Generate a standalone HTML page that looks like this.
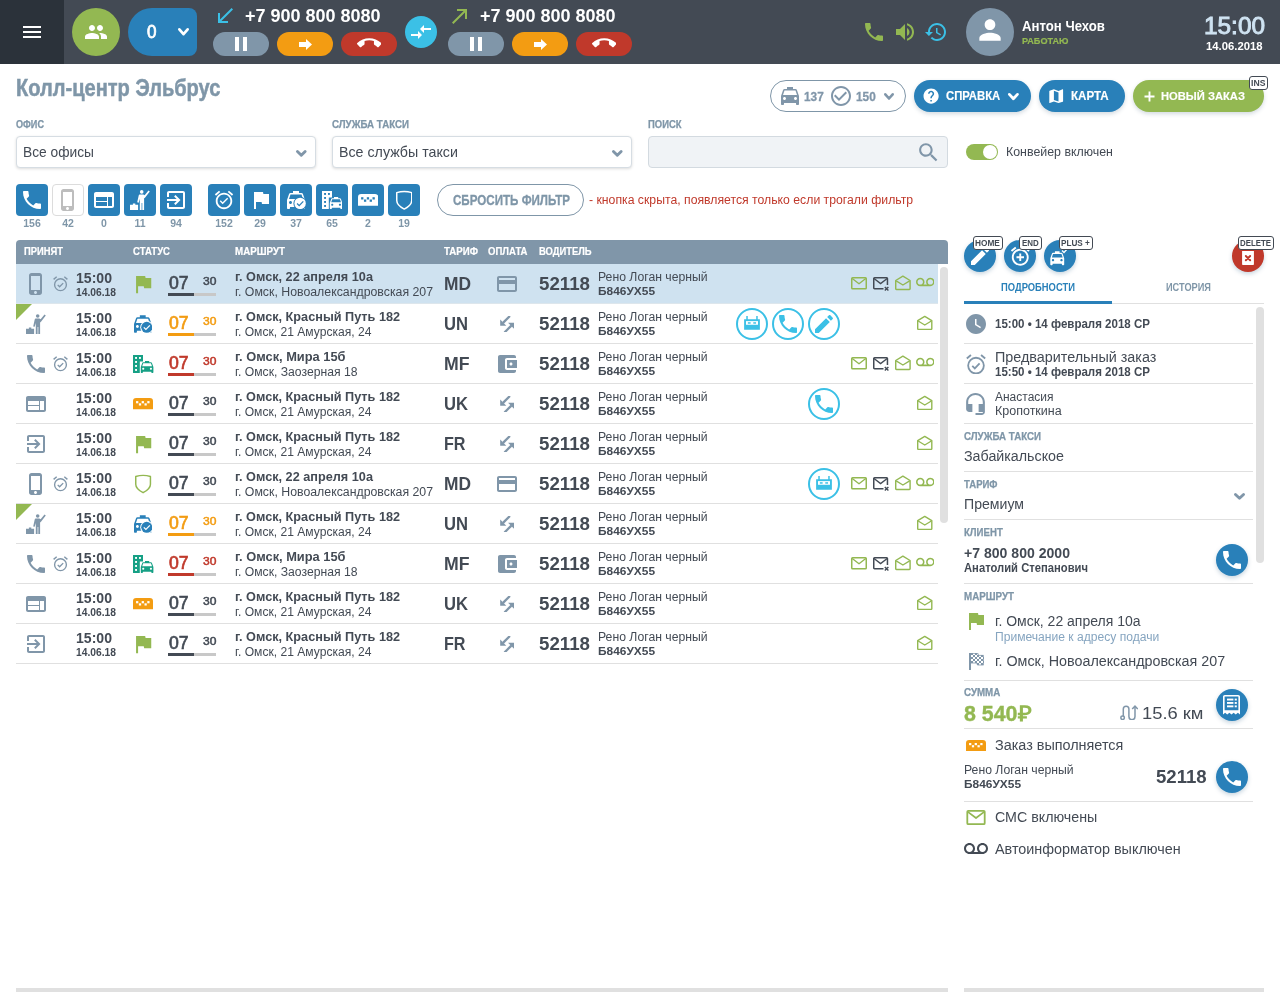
<!DOCTYPE html>
<html lang="ru">
<head>
<meta charset="utf-8">
<title>Колл-центр Эльбрус</title>
<style>
html,body{margin:0;padding:0}
body{width:1280px;height:1000px;position:relative;overflow:hidden;background:#fff;font-family:"Liberation Sans",sans-serif;color:#434a54}
.a{position:absolute;display:block;box-sizing:border-box}
.t{position:absolute;white-space:pre;line-height:1;transform-origin:0 50%}
.pill{border-radius:16px}
.sh{box-shadow:0 2px 4px rgba(60,90,120,.22)}

</style>
</head>
<body>
<header class="a" style="left:0;top:0;width:1280px;height:64px;background:#434a54">
<div class="a" style="left:0px;top:0px;width:64px;height:64px;background:#2b323a"></div>
<svg class="a" style="left:20px;top:20px" width="24" height="24" viewBox="0 0 24 24" fill="#fff" color="#fff"><path d="M3 18h18v-2H3v2zm0-5h18v-2H3v2zm0-7v2h18V6H3z"/></svg>
<div class="a" style="left:72px;top:8px;width:48px;height:48px;border-radius:50%;background:#93b852"></div>
<svg class="a" style="left:84px;top:20px" width="24" height="24" viewBox="0 0 24 24" fill="#fff" color="#fff"><path d="M16 11c1.66 0 2.99-1.34 2.99-3S17.66 5 16 5c-1.66 0-3 1.34-3 3s1.34 3 3 3zm-8 0c1.66 0 2.99-1.34 2.99-3S9.66 5 8 5C6.34 5 5 6.34 5 8s1.34 3 3 3zm0 2c-2.33 0-7 1.17-7 3.5V19h14v-2.500c0-2.330-4.670-3.500-7-3.500zm8 0c-.29 0-.62.02-.97.05 1.16.84 1.970 1.970 1.970 3.450V19h6v-2.500c0-2.330-4.670-3.500-7-3.500z"/></svg>
<div class="a" style="left:128px;top:8px;width:69px;height:48px;border-radius:24px 8px 8px 24px;background:#2980b9"></div>
<span class="t" style="left:147.35px;top:23px;font-size:18.5px;color:#fff;transform:scaleX(0.923);-webkit-text-stroke:.8px #fff;">0</span>
<svg class="a" style="left:176px;top:26.4px" width="15" height="11.5" viewBox="0 0 15 11.5" fill="none" stroke="#fff" stroke-width="2.7" stroke-linecap="round" stroke-linejoin="round"><path d="M3.35 3.35L7.5 8.15L11.65 3.35"/></svg>
<svg class="a" style="left:213.2px;top:4px" width="24" height="24" viewBox="0 0 24 24" fill="#3bc0e6" color="#3bc0e6"><path d="M20 5.41L18.590 4 7 15.590V9H5v10h10v-2H8.410z"/></svg>
<span class="t" style="left:245px;top:7px;font-size:18px;color:#fff;font-weight:700;">+7 900 800 8080</span>
<div class="a" style="left:213px;top:32px;width:56px;height:24px;border-radius:12px;background:#8096a9"></div>
<svg class="a" style="left:229px;top:32px" width="24" height="24" viewBox="0 0 24 24" fill="#fff" color="#fff"><path d="M6 19h4V5H6v14zm8-14v14h4V5h-4z"/></svg>
<div class="a" style="left:277px;top:32px;width:56px;height:24px;border-radius:12px;background:#f39c12"></div>
<svg class="a" style="left:298.7px;top:38.8px" width="13" height="11" viewBox="0 0 13 11" fill="#fff" color="#fff"><path d="M0 3h7V0l6 5.500L7 11V8H0z"/></svg>
<div class="a" style="left:341px;top:32px;width:56px;height:24px;border-radius:12px;background:#c0392b"></div>
<svg class="a" style="left:356.7px;top:31.3px" width="24.5" height="24.5" viewBox="0 0 24 24" fill="#fff" color="#fff"><path d="M12 9c-1.600 0-3.150.25-4.600.72v3.100c0 .39-.23.74-.56.9-.98.49-1.870 1.120-2.660 1.850-.18.18-.43.28-.7.28-.28 0-.53-.11-.71-.29L.29 13.080c-.18-.17-.29-.42-.29-.7 0-.28.11-.53.29-.71C3.340 8.780 7.460 7 12 7s8.660 1.780 11.710 4.670c.18.18.29.43.29.71 0 .28-.11.53-.29.71l-2.480 2.480c-.18.18-.43.29-.71.29-.27 0-.52-.11-.7-.28-.79-.74-1.690-1.360-2.670-1.850-.33-.16-.56-.5-.56-.9v-3.100C15.150 9.250 13.600 9 12 9z"/></svg>
<div class="a" style="left:405px;top:16px;width:32px;height:32px;border-radius:50%;background:#3bc0e6"></div>
<svg class="a" style="left:409px;top:19.5px" width="24" height="24" viewBox="0 0 24 24" fill="#fff" color="#fff"><path d="M9.01 14H2v2h7.010v3L13 15l-3.990-4v3zm5.980-1v-3H22V8h-7.010V5L11 9l3.990 4z"/></svg>
<svg class="a" style="left:447.7px;top:4px" width="24" height="24" viewBox="0 0 24 24" fill="#93b852" color="#93b852"><path d="M9 5v2h6.590L4 18.590 5.410 20 17 8.410V15h2V5z"/></svg>
<span class="t" style="left:480px;top:7px;font-size:18px;color:#fff;font-weight:700;">+7 900 800 8080</span>
<div class="a" style="left:448px;top:32px;width:56px;height:24px;border-radius:12px;background:#8096a9"></div>
<svg class="a" style="left:464px;top:32px" width="24" height="24" viewBox="0 0 24 24" fill="#fff" color="#fff"><path d="M6 19h4V5H6v14zm8-14v14h4V5h-4z"/></svg>
<div class="a" style="left:512px;top:32px;width:56px;height:24px;border-radius:12px;background:#f39c12"></div>
<svg class="a" style="left:533.7px;top:38.8px" width="13" height="11" viewBox="0 0 13 11" fill="#fff" color="#fff"><path d="M0 3h7V0l6 5.500L7 11V8H0z"/></svg>
<div class="a" style="left:576px;top:32px;width:56px;height:24px;border-radius:12px;background:#c0392b"></div>
<svg class="a" style="left:591.7px;top:31.3px" width="24.5" height="24.5" viewBox="0 0 24 24" fill="#fff" color="#fff"><path d="M12 9c-1.600 0-3.150.25-4.600.72v3.100c0 .39-.23.74-.56.9-.98.49-1.870 1.120-2.660 1.850-.18.18-.43.28-.7.28-.28 0-.53-.11-.71-.29L.29 13.080c-.18-.17-.29-.42-.29-.7 0-.28.11-.53.29-.71C3.340 8.780 7.460 7 12 7s8.660 1.780 11.710 4.670c.18.18.29.43.29.71 0 .28-.11.53-.29.71l-2.480 2.480c-.18.18-.43.29-.71.29-.27 0-.52-.11-.7-.28-.79-.74-1.690-1.360-2.670-1.850-.33-.16-.56-.5-.56-.9v-3.100C15.150 9.250 13.600 9 12 9z"/></svg>
<svg class="a" style="left:862px;top:20px" width="24" height="24" viewBox="0 0 24 24" fill="#93b852" color="#93b852"><path d="M6.62 10.79c1.44 2.83 3.76 5.14 6.59 6.59l2.2-2.2c.27-.27.67-.36 1.02-.24 1.12.37 2.33.57 3.57.57.55 0 1 .45 1 1V20c0 .55-.45 1-1 1-9.39 0-17-7.61-17-17 0-.55.45-1 1-1h3.5c.55 0 1 .45 1 1 0 1.25.2 2.45.57 3.57.11.35.03.74-.25 1.02l-2.2 2.2z"/></svg>
<svg class="a" style="left:893px;top:20px" width="24" height="24" viewBox="0 0 24 24" fill="#93b852" color="#93b852"><path d="M3 9v6h4l5 5V4L7 9H3zm13.500 3c0-1.770-1.020-3.290-2.500-4.030v8.050c1.480-.73 2.500-2.250 2.500-4.020zM14 3.230v2.060c2.890.86 5 3.540 5 6.710s-2.110 5.850-5 6.710v2.060c4.010-.91 7-4.490 7-8.770s-2.990-7.860-7-8.770z"/></svg>
<svg class="a" style="left:924px;top:20px" width="24" height="24" viewBox="0 0 24 24" fill="#3bc0e6" color="#3bc0e6"><path d="M13 3c-4.970 0-9 4.030-9 9H1l3.890 3.890.07.14L9 12H6c0-3.870 3.130-7 7-7s7 3.130 7 7-3.130 7-7 7c-1.930 0-3.680-.79-4.940-2.060l-1.420 1.420C8.270 19.990 10.510 21 13 21c4.970 0 9-4.030 9-9s-4.030-9-9-9zm-1 5v5l4.280 2.540.72-1.210-3.500-2.080V8H12z"/></svg>
<div class="a" style="left:966px;top:8px;width:48px;height:48px;border-radius:50%;background:#8096a9;overflow:hidden"></div>
<svg class="a" style="left:974px;top:14px" width="32" height="32" viewBox="0 0 24 24" fill="#fff" color="#fff"><path d="M12 12c2.210 0 4-1.790 4-4s-1.790-4-4-4-4 1.790-4 4 1.790 4 4 4zm0 2c-2.670 0-8 1.340-8 4v2h16v-2c0-2.660-5.330-4-8-4z"/></svg>
<span class="t" style="left:1022px;top:19px;font-size:14px;color:#fff;font-weight:700;transform:scaleX(0.941);">Антон Чехов</span>
<span class="t" style="left:1022px;top:37px;font-size:9.3px;color:#93b852;font-weight:700;transform:scaleX(0.981);-webkit-text-stroke:.2px;">РАБОТАЮ</span>
<span class="t" style="left:1204px;top:15px;font-size:23.5px;color:#cfe3f2;transform:scaleX(1.037);-webkit-text-stroke:.9px #cfe3f2;">15:00</span>
<span class="t" style="left:1206px;top:41px;font-size:11px;color:#fff;font-weight:700;transform:scaleX(1.026);">14.06.2018</span>
</header>
<span class="t" style="left:16.2px;top:77px;font-size:23px;color:#7f96a8;font-weight:700;transform:scaleX(0.872);-webkit-text-stroke:.5px #7f96a8;">Колл-центр Эльбрус</span>
<div class="a" style="left:770px;top:80px;width:136px;height:32px;border:1px solid #7f96a8;border-radius:16px"></div>
<svg class="a" style="left:778px;top:84px" width="24" height="24" viewBox="0 0 24 24" fill="#8096a9" color="#8096a9"><path d="M18.920 6.010C18.720 5.420 18.160 5 17.500 5H15V3H9v2H6.500c-.66 0-1.210.42-1.420 1.010L3 12v8c0 .55.45 1 1 1h1c.55 0 1-.45 1-1v-1h12v1c0 .55.45 1 1 1h1c.55 0 1-.45 1-1v-8l-2.080-5.990zM6.500 16c-.83 0-1.500-.67-1.500-1.500S5.670 13 6.500 13s1.500.67 1.500 1.500S7.330 16 6.500 16zm11 0c-.83 0-1.500-.67-1.500-1.500s.67-1.500 1.500-1.500 1.500.67 1.500 1.500-.67 1.500-1.500 1.500zM5 11l1.500-4.500h11L19 11H5z"/></svg>
<span class="t" style="left:803.8px;top:90px;font-size:13px;color:#8096a9;font-weight:700;transform:scaleX(0.908);-webkit-text-stroke:.3px;">137</span>
<svg class="a" style="left:829px;top:84px" width="24" height="24" viewBox="0 0 24 24" fill="#8096a9" color="#8096a9"><path d="M16.590 7.580L10 14.170l-3.590-3.580L5 12l5 5 8-8zM12 2C6.480 2 2 6.480 2 12s4.480 10 10 10 10-4.480 10-10S17.520 2 12 2zm0 18c-4.420 0-8-3.580-8-8s3.580-8 8-8 8 3.580 8 8-3.580 8-8 8z"/></svg>
<span class="t" style="left:855.9px;top:90px;font-size:13px;color:#8096a9;font-weight:700;transform:scaleX(0.908);-webkit-text-stroke:.3px;">150</span>
<svg class="a" style="left:881.5px;top:90.8px" width="14" height="10.8" viewBox="0 0 14 10.8" fill="none" stroke="#8096a9" stroke-width="2.6" stroke-linecap="round" stroke-linejoin="round"><path d="M3.3 3.3L7.0 7.500000000000001L10.7 3.3"/></svg>
<div class="a sh" style="left:914px;top:80px;width:117px;height:32px;border-radius:16px;background:#2980b9"></div>
<svg class="a" style="left:921.8px;top:86.8px" width="18.2" height="18.2" viewBox="0 0 24 24" fill="#fff" color="#fff"><path d="M12 2C6.480 2 2 6.480 2 12s4.480 10 10 10 10-4.480 10-10S17.520 2 12 2zm1 17h-2v-2h2v2zm2.070-7.750l-.9.92C13.450 12.900 13 13.500 13 15h-2v-.5c0-1.100.45-2.100 1.170-2.830l1.240-1.260c.37-.36.59-.86.59-1.410 0-1.100-.9-2-2-2s-2 .9-2 2H8c0-2.210 1.790-4 4-4s4 1.790 4 4c0 .88-.36 1.680-.93 2.250z"/></svg>
<span class="t" style="left:946px;top:90px;font-size:12px;color:#fff;font-weight:700;transform:scaleX(0.943);-webkit-text-stroke:.15px;">СПРАВКА</span>
<svg class="a" style="left:1006px;top:90.5px" width="14.8" height="11.2" viewBox="0 0 14.8 11.2" fill="none" stroke="#fff" stroke-width="2.8" stroke-linecap="round" stroke-linejoin="round"><path d="M3.4 3.4L7.4 7.799999999999999L11.4 3.4"/></svg>
<div class="a sh" style="left:1039px;top:80px;width:86px;height:32px;border-radius:16px;background:#2980b9"></div>
<svg class="a" style="left:1046.7px;top:86.5px" width="18.4" height="18.4" viewBox="0 0 24 24" fill="#fff" color="#fff"><path d="M20.500 3l-.16.03L15 5.100 9 3 3.360 4.900c-.21.07-.36.25-.36.48V20.500c0 .28.22.5.5.5l.16-.03L9 18.900l6 2.100 5.640-1.900c.21-.07.36-.25.36-.48V3.500c0-.28-.22-.5-.5-.5zM15 19l-6-2.110V5l6 2.110V19z"/></svg>
<span class="t" style="left:1071.4px;top:90px;font-size:12px;color:#fff;font-weight:700;transform:scaleX(0.965);-webkit-text-stroke:.15px;">КАРТА</span>
<div class="a sh" style="left:1133px;top:80px;width:131px;height:32px;border-radius:16px;background:#93b852"></div>
<svg class="a" style="left:1144px;top:90.5px" width="11" height="11" viewBox="0 0 11 11" stroke="#fff" stroke-width="1.900" fill="none"><path d="M5.500 .5v10M.5 5.500h10"/></svg>
<span class="t" style="left:1161.3px;top:90px;font-size:11.7px;color:#fff;font-weight:700;transform:scaleX(0.957);-webkit-text-stroke:.15px;">НОВЫЙ ЗАКАЗ</span>
<div class="a" style="left:1248.5px;top:76.2px;width:19.5px;height:13.5px;border:1px solid #434a54;border-radius:3px;background:#fff"></div>
<span class="t" style="left:1251px;top:79px;font-size:9px;color:#434a54;font-weight:700;transform:scaleX(0.959);">INS</span>
<span class="t" style="left:16px;top:120px;font-size:10px;color:#7f96a8;font-weight:700;transform:scaleX(0.911);-webkit-text-stroke:.25px;">ОФИС</span>
<div class="a" style="left:16px;top:136px;width:300px;height:32px;border:1px solid #d6dde3;border-radius:4px;background:#fff;box-shadow:0 1px 3px rgba(0,0,0,.14)"></div>
<span class="t" style="left:23px;top:144px;font-size:15px;color:#434a54;transform:scaleX(0.918);">Все офисы</span>
<svg class="a" style="left:294.4px;top:147.5px" width="14.6" height="10.7" viewBox="0 0 14.6 10.7" fill="none" stroke="#8096a9" stroke-width="2.9" stroke-linecap="round" stroke-linejoin="round"><path d="M3.45 3.45L7.3 7.249999999999999L11.15 3.45"/></svg>
<span class="t" style="left:332px;top:120px;font-size:10px;color:#7f96a8;font-weight:700;transform:scaleX(0.973);-webkit-text-stroke:.25px;">СЛУЖБА ТАКСИ</span>
<div class="a" style="left:332px;top:136px;width:300px;height:32px;border:1px solid #d6dde3;border-radius:4px;background:#fff;box-shadow:0 1px 3px rgba(0,0,0,.14)"></div>
<span class="t" style="left:339px;top:144px;font-size:15px;color:#434a54;transform:scaleX(0.949);">Все службы такси</span>
<svg class="a" style="left:610.4px;top:147.5px" width="14.6" height="10.7" viewBox="0 0 14.6 10.7" fill="none" stroke="#8096a9" stroke-width="2.9" stroke-linecap="round" stroke-linejoin="round"><path d="M3.45 3.45L7.3 7.249999999999999L11.15 3.45"/></svg>
<span class="t" style="left:648px;top:120px;font-size:10px;color:#7f96a8;font-weight:700;transform:scaleX(0.944);-webkit-text-stroke:.25px;">ПОИСК</span>
<div class="a" style="left:648px;top:136px;width:300px;height:32px;border:1px solid #d3dae0;border-radius:4px;background:#f0f3f6"></div>
<svg class="a" style="left:916px;top:139.5px" width="25" height="25" viewBox="0 0 24 24" fill="#8096a9" color="#8096a9"><path d="M15.500 14h-.79l-.28-.27C15.410 12.590 16 11.110 16 9.500 16 5.910 13.090 3 9.500 3S3 5.910 3 9.500 5.910 16 9.500 16c1.610 0 3.090-.59 4.230-1.570l.27.28v.79l5 4.990L20.490 19l-4.990-5zm-6 0C7.010 14 5 11.990 5 9.500S7.010 5 9.500 5 14 7.010 14 9.500 11.990 14 9.500 14z"/></svg>
<div class="a" style="left:966px;top:144px;width:32px;height:16px;border-radius:8px;background:#93b852"></div>
<div class="a" style="left:983px;top:145px;width:14px;height:14px;border-radius:50%;background:#fff"></div>
<span class="t" style="left:1006px;top:146px;font-size:12px;color:#434a54;transform:scaleX(1.032);">Конвейер включен</span>
<div class="a" style="left:16px;top:184px;width:32px;height:32px;border-radius:4px;background:#2980b9"></div>
<span class="t" style="left:23.23px;top:218px;font-size:10.5px;color:#7f96a8;font-weight:700;">156</span>
<div class="a" style="left:52px;top:184px;width:32px;height:32px;border:1px solid #dcdcdc;border-radius:4px;background:#fff"></div>
<span class="t" style="left:62.16px;top:218px;font-size:10.5px;color:#7f96a8;font-weight:700;">42</span>
<div class="a" style="left:88px;top:184px;width:32px;height:32px;border-radius:4px;background:#2980b9"></div>
<span class="t" style="left:101.08px;top:218px;font-size:10.5px;color:#7f96a8;font-weight:700;">0</span>
<div class="a" style="left:124px;top:184px;width:32px;height:32px;border-radius:4px;background:#2980b9"></div>
<span class="t" style="left:134.45px;top:218px;font-size:10.5px;color:#7f96a8;font-weight:700;">11</span>
<div class="a" style="left:160px;top:184px;width:32px;height:32px;border-radius:4px;background:#2980b9"></div>
<span class="t" style="left:170.16px;top:218px;font-size:10.5px;color:#7f96a8;font-weight:700;">94</span>
<div class="a" style="left:208px;top:184px;width:32px;height:32px;border-radius:4px;background:#2980b9"></div>
<span class="t" style="left:215.23px;top:218px;font-size:10.5px;color:#7f96a8;font-weight:700;">152</span>
<div class="a" style="left:244px;top:184px;width:32px;height:32px;border-radius:4px;background:#2980b9"></div>
<span class="t" style="left:254.16px;top:218px;font-size:10.5px;color:#7f96a8;font-weight:700;">29</span>
<div class="a" style="left:280px;top:184px;width:32px;height:32px;border-radius:4px;background:#2980b9"></div>
<span class="t" style="left:290.16px;top:218px;font-size:10.5px;color:#7f96a8;font-weight:700;">37</span>
<div class="a" style="left:316px;top:184px;width:32px;height:32px;border-radius:4px;background:#2980b9"></div>
<span class="t" style="left:326.16px;top:218px;font-size:10.5px;color:#7f96a8;font-weight:700;">65</span>
<div class="a" style="left:352px;top:184px;width:32px;height:32px;border-radius:4px;background:#2980b9"></div>
<span class="t" style="left:365.08px;top:218px;font-size:10.5px;color:#7f96a8;font-weight:700;">2</span>
<div class="a" style="left:388px;top:184px;width:32px;height:32px;border-radius:4px;background:#2980b9"></div>
<span class="t" style="left:398.16px;top:218px;font-size:10.5px;color:#7f96a8;font-weight:700;">19</span>
<svg class="a" style="left:20px;top:188px" width="24" height="24" viewBox="0 0 24 24" fill="#fff" color="#fff"><path d="M6.62 10.79c1.44 2.83 3.76 5.14 6.59 6.59l2.2-2.2c.27-.27.67-.36 1.02-.24 1.12.37 2.33.57 3.57.57.55 0 1 .45 1 1V20c0 .55-.45 1-1 1-9.39 0-17-7.61-17-17 0-.55.45-1 1-1h3.5c.55 0 1 .45 1 1 0 1.25.2 2.45.57 3.57.11.35.03.74-.25 1.02l-2.2 2.2z"/></svg>
<svg class="a" style="left:56px;top:187.5px" width="24" height="24" viewBox="0 0 24 24" fill="#bdbdbd" color="#bdbdbd"><path d="M15.500 1h-8C6.120 1 5 2.120 5 3.500v17C5 21.880 6.120 23 7.500 23h8c1.380 0 2.500-1.120 2.500-2.500v-17C18 2.120 16.880 1 15.500 1zm-4 21c-.83 0-1.500-.67-1.500-1.500s.67-1.500 1.500-1.500 1.500.67 1.500 1.500-.67 1.500-1.500 1.500zm4.500-4H7V4h9v14z"/></svg>
<svg class="a" style="left:92px;top:188px" width="24" height="24" viewBox="0 0 24 24" fill="#fff" color="#fff"><path d="M20 4H4c-1.100 0-1.990.9-1.990 2L2 18c0 1.100.9 2 2 2h16c1.100 0 2-.9 2-2V6c0-1.100-.9-2-2-2zm-5 14H4v-4h11v4zm0-5H4V9h11v4zm5 5h-4V9h4v9z"/></svg>
<svg class="a" style="left:130px;top:189.7px" width="20" height="20.4" viewBox="0 0 20 20.4" fill="#fff" color="#fff"><circle cx="11.7" cy="1.9" r="1.8"/><path d="M9.500 4.500h3.600c.6 0 1.100.2 1.500.7L18.500.5l1.300 1-4.600 6c-.3.400-.7.700-1.100.8v12h-1.800v-7.400h-.7v7.400H9.800V8.800l-1.100 3.900-1.500-.4 1.300-5.900c.2-1.100.6-1.900 1-1.900z"/><path d="M0 14.700h2.900v-1.200h2.400v1.200h2.800v5.600H0z"/></svg>
<svg class="a" style="left:164px;top:188px" width="24" height="24" viewBox="0 0 24 24" fill="#fff" color="#fff"><path d="M10.090 15.590L11.500 17l5-5-5-5-1.410 1.410L12.670 11H3v2h9.670l-2.580 2.590zM19 3H5c-1.110 0-2 .9-2 2v4h2V5h14v14H5v-4H3v4c0 1.100.89 2 2 2h14c1.100 0 2-.9 2-2V5c0-1.100-.9-2-2-2z"/></svg>
<svg class="a" style="left:213px;top:188.5px" width="22" height="22" viewBox="0 0 24 24" fill="#fff" color="#fff"><path d="M22 5.720l-4.600-3.860-1.290 1.530 4.600 3.860L22 5.720zM7.880 3.390L6.600 1.860 2 5.710l1.290 1.530 4.590-3.850zM12 4c-4.970 0-9 4.030-9 9s4.020 9 9 9c4.970 0 9-4.030 9-9s-4.030-9-9-9zm0 16c-3.870 0-7-3.130-7-7s3.130-7 7-7 7 3.130 7 7-3.130 7-7 7zm-1.460-5.470L8.410 12.400l-1.060 1.060 3.180 3.180 6-6-1.060-1.060-4.930 4.950z"/></svg>
<svg class="a" style="left:249px;top:188px" width="24" height="24" viewBox="0 0 24 24" fill="#fff" color="#fff"><path d="M14.400 6L14 4H5v17h2v-7h5.600l.4 2h7V6z"/></svg>
<svg class="a" style="left:286.6px;top:191px" width="19" height="18" viewBox="0 0 19 18" fill="#fff" color="#fff"><path d="M15.920 3.010C15.720 2.420 15.160 2 14.500 2H12V0H6v2H3.500c-.66 0-1.210.42-1.420 1.010L0 9v8c0 .55.45 1 1 1h1c.55 0 1-.45 1-1v-1h12v1c0 .55.45 1 1 1h1c.55 0 1-.45 1-1V9l-2.080-5.990zM3.500 13c-.83 0-1.500-.67-1.500-1.500S2.670 10 3.500 10s1.500.67 1.500 1.500S4.330 13 3.500 13zm11 0c-.83 0-1.500-.67-1.500-1.500s.67-1.500 1.500-1.500 1.500.67 1.500 1.500-.67 1.500-1.500 1.500zM2 8l1.500-4.500h11L16 8H2z"/><circle cx="13.100" cy="12.400" r="6.700" fill="#2980b9"/><circle cx="13.100" cy="12.400" r="5.700"/><path d="M10.100 12.500l2.100 2.100 4.100-4.200" fill="none" stroke="#2980b9" stroke-width="1.300"/></svg>
<svg class="a" style="left:321.9px;top:191px" width="20.4" height="18" viewBox="0 0 20.4 18" fill="#fff" color="#fff"><path d="M0 0h10v6.500H6.800V18H0z"/><g fill="#2980b9"><rect x="2.100" y="2" width="1.900" height="1.900"/><rect x="6" y="2" width="1.900" height="1.900"/><rect x="2.100" y="6" width="1.900" height="1.900"/><rect x="2.100" y="10" width="1.900" height="1.900"/><rect x="2.100" y="14" width="1.900" height="1.900"/></g><g transform="translate(7.800 6) scale(.7 .667)"><path d="M15.920 3.010C15.720 2.420 15.160 2 14.500 2H12V0H6v2H3.500c-.66 0-1.210.42-1.420 1.010L0 9v8c0 .55.45 1 1 1h1c.55 0 1-.45 1-1v-1h12v1c0 .55.45 1 1 1h1c.55 0 1-.45 1-1V9l-2.080-5.990zM3.500 13c-.83 0-1.500-.67-1.500-1.500S2.670 10 3.500 10s1.500.67 1.500 1.500S4.330 13 3.500 13zm11 0c-.83 0-1.500-.67-1.500-1.500s.67-1.500 1.500-1.500 1.500.67 1.500 1.500-.67 1.500-1.500 1.500zM2 8l1.500-4.500h11L16 8H2z"/></g></svg>
<svg class="a" style="left:357.9px;top:194.25px" width="20.3" height="11.7" viewBox="0 0 20.3 11.7" fill="#fff" color="#fff"><path d="M3.200 0h13.900a3.200 3.200 0 0 1 3.200 3.200v8.500H0V3.200A3.200 3.200 0 0 1 3.200 0z"/><g fill="#2980b9"><rect x="3.100" y="3.200" width="2.300" height="2.300"/><rect x="8.800" y="3.200" width="2.300" height="2.300"/><rect x="14.500" y="3.200" width="2.300" height="2.300"/><rect x="5.950" y="5.500" width="2.300" height="2.300"/><rect x="11.650" y="5.500" width="2.300" height="2.300"/></g></svg>
<svg class="a" style="left:395.7px;top:190px" width="16.5" height="20" viewBox="0 0 16.5 20" fill="#fff" color="#fff"><path fill="none" stroke="currentColor" stroke-width="1.500" stroke-linejoin="round" d="M.75 2.600Q8.250 .2 15.750 2.600V10.500Q15.750 15.200 8.250 19.100Q.75 15.200 .75 10.500Z"/></svg>
<div class="a" style="left:437px;top:184px;width:146.5px;height:32px;border:1px solid #7f96a8;border-radius:16px;background:#fff"></div>
<span class="t" style="left:452.5px;top:193px;font-size:14px;color:#7f96a8;font-weight:700;transform:scaleX(0.828);-webkit-text-stroke:.3px;">СБРОСИТЬ ФИЛЬТР</span>
<span class="t" style="left:588.6px;top:194px;font-size:12px;color:#c0392b;transform:scaleX(1.020);">- кнопка скрыта, появляется только если трогали фильтр</span>
<section class="a" style="left:0;top:0">
<div class="a" style="left:16px;top:240px;width:932px;height:24px;background:#8096a9;border-radius:4px 4px 0 0"></div>
<span class="t" style="left:24px;top:247px;font-size:10px;color:#fff;font-weight:700;transform:scaleX(0.938);-webkit-text-stroke:.2px;">ПРИНЯТ</span>
<span class="t" style="left:133px;top:247px;font-size:10px;color:#fff;font-weight:700;transform:scaleX(0.955);-webkit-text-stroke:.2px;">СТАТУС</span>
<span class="t" style="left:235px;top:247px;font-size:10px;color:#fff;font-weight:700;transform:scaleX(0.978);-webkit-text-stroke:.2px;">МАРШРУТ</span>
<span class="t" style="left:444px;top:247px;font-size:10px;color:#fff;font-weight:700;transform:scaleX(0.969);-webkit-text-stroke:.2px;">ТАРИФ</span>
<span class="t" style="left:488px;top:247px;font-size:10px;color:#fff;font-weight:700;transform:scaleX(0.954);-webkit-text-stroke:.2px;">ОПЛАТА</span>
<span class="t" style="left:539px;top:247px;font-size:10px;color:#fff;font-weight:700;transform:scaleX(0.939);-webkit-text-stroke:.2px;">ВОДИТЕЛЬ</span>
<div class="a" style="left:940px;top:267px;width:8px;height:256px;background:#e0e0e0;border-radius:4px"></div>
<div class="a" style="left:16px;top:264px;width:922px;height:40px;background:#cfe2f0;border-bottom:1px solid #dde6ec"></div>
<svg class="a" style="left:24px;top:272px" width="24" height="24" viewBox="0 0 24 24" fill="#8096a9" color="#8096a9"><path d="M15.500 1h-8C6.120 1 5 2.120 5 3.500v17C5 21.880 6.120 23 7.500 23h8c1.380 0 2.500-1.120 2.500-2.500v-17C18 2.120 16.880 1 15.500 1zm-4 21c-.83 0-1.500-.67-1.500-1.500s.67-1.500 1.500-1.500 1.500.67 1.500 1.500-.67 1.500-1.500 1.500zm4.500-4H7V4h9v14z"/></svg>
<svg class="a" style="left:52.5px;top:276.4px" width="15" height="15.4" viewBox="0 0 15 15.4" fill="#8096a9" color="#8096a9"><g fill="none" stroke="currentColor" stroke-width="1.350"><circle cx="7.500" cy="8.700" r="5.900"/><path d="M4.700 8.900l1.900 1.900 3.600-3.700"/><path d="M.6 3.400L3.700.8M14.400 3.400L11.300.8" stroke-width="1.400"/></g></svg>
<span class="t" style="left:76px;top:271px;font-size:14px;color:#434a54;font-weight:700;transform:scaleX(1.005);">15:00</span>
<span class="t" style="left:76px;top:288px;font-size:10px;color:#434a54;font-weight:700;transform:scaleX(1.027);">14.06.18</span>
<svg class="a" style="left:130.8px;top:271.7px" width="24.3" height="24.3" viewBox="0 0 24 24" fill="#93b852" color="#93b852"><path d="M14.400 6L14 4H5v17h2v-7h5.600l.4 2h7V6z"/></svg>
<span class="t" style="left:169px;top:274px;font-size:18px;color:#434a54;transform:scaleX(0.978);-webkit-text-stroke:.7px #434a54;">07</span>
<span class="t" style="left:203px;top:276px;font-size:11.5px;color:#434a54;transform:scaleX(1.047);-webkit-text-stroke:.5px #434a54;">30</span>
<div class="a" style="left:168px;top:293px;width:48px;height:3px;background:#c8c8c8"></div>
<div class="a" style="left:168px;top:293px;width:26px;height:3px;background:#434a54"></div>
<span class="t" style="left:235px;top:270px;font-size:13px;color:#434a54;font-weight:700;transform:scaleX(0.976);">г. Омск, 22 апреля 10а</span>
<span class="t" style="left:235px;top:286px;font-size:12.5px;color:#434a54;transform:scaleX(0.985);">г. Омск, Новоалександровская 207</span>
<span class="t" style="left:444px;top:276px;font-size:17.5px;color:#434a54;font-weight:700;transform:scaleX(0.992);">MD</span>
<svg class="a" style="left:495px;top:272px" width="24" height="24" viewBox="0 0 24 24" fill="#8096a9" color="#8096a9"><path d="M20 4H4c-1.110 0-1.990.89-1.990 2L2 18c0 1.110.89 2 2 2h16c1.110 0 2-.89 2-2V6c0-1.110-.89-2-2-2zm0 14H4v-6h16v6zm0-10H4V6h16v2z"/></svg>
<span class="t" style="left:539.2px;top:275px;font-size:18px;color:#434a54;font-weight:700;transform:scaleX(1.039);">52118</span>
<span class="t" style="left:598px;top:271px;font-size:12px;color:#434a54;transform:scaleX(1.019);">Рено Логан черный</span>
<span class="t" style="left:598px;top:286px;font-size:11.5px;color:#434a54;font-weight:700;transform:scaleX(1.035);">Б846УХ55</span>
<svg class="a" style="left:851px;top:277px" width="16" height="12.5" viewBox="0 0 16 12.5" fill="#93b852" color="#93b852"><g fill="none" stroke="currentColor" stroke-width="1.500" stroke-linejoin="round"><rect x=".75" y=".75" width="14.500" height="11" rx=".8"/><path d="M1.200 1.500L8 6.700l6.800-5.200" stroke-width="1.400"/></g></svg>
<svg class="a" style="left:873px;top:277px" width="17" height="15" viewBox="0 0 17 15" fill="#434a54" color="#434a54"><path fill="none" stroke="currentColor" stroke-width="1.500" stroke-linejoin="round" d="M10.500 11.700H1.500a.75.75 0 0 1-.75-.75V1.500A.75.75 0 0 1 1.500.75h12.200a.75.75 0 0 1 .75.75V8"/><path fill="none" stroke="currentColor" stroke-width="1.400" d="M1 1.500l6.600 5 6.600-5"/><path d="M11.800 10l3.600 3.600M15.400 10l-3.600 3.600" stroke="currentColor" stroke-width="1.400" fill="none"/></svg>
<svg class="a" style="left:895px;top:275px" width="15.8" height="15.5" viewBox="0 0 16.5 15.5" fill="#93b852" color="#93b852"><g fill="none" stroke="currentColor" stroke-width="1.500" stroke-linejoin="round"><path d="M.75 5.400L8.250.9l7.500 4.500v8.600a.75.75 0 0 1-.75.75H1.500a.75.75 0 0 1-.75-.75z"/><path d="M1.200 5.800l7.050 4.300 7.050-4.300" stroke-width="1.400"/></g></svg>
<svg class="a" style="left:915.8px;top:273.2px" width="18.6" height="18.6" viewBox="0 0 24 24" fill="#93b852" color="#93b852"><path d="M18.500 6C15.460 6 13 8.460 13 11.500c0 1.330.47 2.550 1.260 3.500H9.740c.79-.95 1.260-2.170 1.260-3.500C11 8.460 8.540 6 5.500 6S0 8.460 0 11.500 2.460 17 5.500 17h13c3.040 0 5.500-2.460 5.500-5.500S21.540 6 18.500 6zm-13 9C3.570 15 2 13.430 2 11.500S3.570 8 5.500 8 9 9.570 9 11.500 7.430 15 5.500 15zm13 0c-1.930 0-3.500-1.570-3.500-3.500S16.570 8 18.500 8 22 9.570 22 11.500 20.430 15 18.500 15z"/></svg>
<div class="a" style="left:16px;top:304px;width:922px;height:40px;background:#fff;border-bottom:1px solid #e0e0e0"></div>
<svg class="a" style="left:16px;top:304px" width="16" height="16" viewBox="0 0 16 16"><path d="M0 0h16L0 16z" fill="#93b852"/></svg>
<svg class="a" style="left:26.1px;top:313.8px" width="20" height="20.6" viewBox="0 0 20 20.4" fill="#8096a9" color="#8096a9"><circle cx="11.7" cy="1.9" r="1.8"/><path d="M9.500 4.500h3.600c.6 0 1.100.2 1.500.7L18.500.5l1.300 1-4.600 6c-.3.400-.7.700-1.100.8v12h-1.800v-7.400h-.7v7.400H9.800V8.800l-1.100 3.900-1.500-.4 1.300-5.900c.2-1.100.6-1.900 1-1.900z"/><path d="M0 14.700h2.900v-1.200h2.400v1.200h2.800v5.600H0z"/></svg>
<span class="t" style="left:76px;top:311px;font-size:14px;color:#434a54;font-weight:700;transform:scaleX(1.005);">15:00</span>
<span class="t" style="left:76px;top:328px;font-size:10px;color:#434a54;font-weight:700;transform:scaleX(1.027);">14.06.18</span>
<svg class="a" style="left:133.6px;top:315px" width="18.5" height="18" viewBox="0 0 19 18" fill="#2980b9" color="#2980b9"><path d="M15.920 3.010C15.720 2.420 15.160 2 14.500 2H12V0H6v2H3.500c-.66 0-1.210.42-1.420 1.010L0 9v8c0 .55.45 1 1 1h1c.55 0 1-.45 1-1v-1h12v1c0 .55.45 1 1 1h1c.55 0 1-.45 1-1V9l-2.080-5.990zM3.500 13c-.83 0-1.500-.67-1.500-1.500S2.670 10 3.500 10s1.500.67 1.500 1.500S4.330 13 3.500 13zm11 0c-.83 0-1.500-.67-1.500-1.500s.67-1.500 1.500-1.500 1.500.67 1.500 1.500-.67 1.500-1.500 1.500zM2 8l1.500-4.500h11L16 8H2z"/><circle cx="13.100" cy="12.400" r="6.700" fill="#fff"/><circle cx="13.100" cy="12.400" r="5.700"/><path d="M10.100 12.500l2.100 2.100 4.100-4.200" fill="none" stroke="#fff" stroke-width="1.300"/></svg>
<span class="t" style="left:169px;top:314px;font-size:18px;color:#f39c12;transform:scaleX(0.978);-webkit-text-stroke:.7px #f39c12;">07</span>
<span class="t" style="left:203px;top:316px;font-size:11.5px;color:#f39c12;transform:scaleX(1.047);-webkit-text-stroke:.5px #f39c12;">30</span>
<div class="a" style="left:168px;top:333px;width:48px;height:3px;background:#c8c8c8"></div>
<div class="a" style="left:168px;top:333px;width:26px;height:3px;background:#f39c12"></div>
<span class="t" style="left:235px;top:310px;font-size:13px;color:#434a54;font-weight:700;transform:scaleX(0.976);">г. Омск, Красный Путь 182</span>
<span class="t" style="left:235px;top:326px;font-size:12.5px;color:#434a54;transform:scaleX(0.968);">г. Омск, 21 Амурская, 24</span>
<span class="t" style="left:444px;top:316px;font-size:17.5px;color:#434a54;font-weight:700;transform:scaleX(0.949);">UN</span>
<svg class="a" style="left:499.8px;top:315.8px" width="14.4" height="16.4" viewBox="0 0 14.4 16.4" fill="#8096a9" color="#8096a9"><path d="M.2 3.600v6.100h6.100z"/><path d="M3 6.900L9.900 0" stroke="currentColor" stroke-width="2.300"/><path d="M14.200 12.900V6.800H8.100z"/><path d="M11.400 9.600L4.500 16.500" stroke="currentColor" stroke-width="2.300"/></svg>
<span class="t" style="left:539.2px;top:315px;font-size:18px;color:#434a54;font-weight:700;transform:scaleX(1.039);">52118</span>
<span class="t" style="left:598px;top:311px;font-size:12px;color:#434a54;transform:scaleX(1.019);">Рено Логан черный</span>
<span class="t" style="left:598px;top:326px;font-size:11.5px;color:#434a54;font-weight:700;transform:scaleX(1.035);">Б846УХ55</span>
<div class="a" style="left:736px;top:308px;width:32px;height:32px;border:2px solid #3bc0e6;border-radius:50%;background:#fff"></div>
<svg class="a" style="left:744px;top:316px" width="16" height="13.8" viewBox="0 0 16 14" fill="#3bc0e6" color="#3bc0e6"><path d="M2.200 0h1.500v3.300h8.600V0h1.500v3.300H16V14H0V3.300h2.200z"/><rect x="1.900" y="5.200" width="12.200" height="3.700" fill="#fff"/><rect x="3.800" y="6.300" width="2.800" height="1.500"/><rect x="9.300" y="6.300" width="2.800" height="1.500"/></svg>
<div class="a" style="left:772px;top:308px;width:32px;height:32px;border:2px solid #3bc0e6;border-radius:50%;background:#fff"></div>
<svg class="a" style="left:776.2px;top:312px" width="24" height="24" viewBox="0 0 24 24" fill="#3bc0e6" color="#3bc0e6"><path d="M6.62 10.79c1.44 2.83 3.76 5.14 6.59 6.59l2.2-2.2c.27-.27.67-.36 1.02-.24 1.12.37 2.33.57 3.57.57.55 0 1 .45 1 1V20c0 .55-.45 1-1 1-9.39 0-17-7.61-17-17 0-.55.45-1 1-1h3.5c.55 0 1 .45 1 1 0 1.25.2 2.45.57 3.57.11.35.03.74-.25 1.02l-2.2 2.2z"/></svg>
<div class="a" style="left:808px;top:308px;width:32px;height:32px;border:2px solid #3bc0e6;border-radius:50%;background:#fff"></div>
<svg class="a" style="left:811.8px;top:312px" width="24" height="24" viewBox="0 0 24 24" fill="#3bc0e6" color="#3bc0e6"><path d="M3 17.250V21h3.750L17.810 9.940l-3.750-3.750L3 17.250zM20.710 7.040c.39-.39.39-1.020 0-1.410l-2.340-2.340c-.39-.39-1.020-.39-1.410 0l-1.830 1.830 3.750 3.750 1.830-1.830z"/></svg>
<svg class="a" style="left:917.2px;top:315px" width="15.5" height="15.6" viewBox="0 0 16.5 15.5" fill="#93b852" color="#93b852"><g fill="none" stroke="currentColor" stroke-width="1.500" stroke-linejoin="round"><path d="M.75 5.400L8.250.9l7.500 4.500v8.600a.75.75 0 0 1-.75.75H1.500a.75.75 0 0 1-.75-.75z"/><path d="M1.200 5.800l7.050 4.300 7.050-4.300" stroke-width="1.400"/></g></svg>
<div class="a" style="left:16px;top:344px;width:922px;height:40px;background:#fff;border-bottom:1px solid #e0e0e0"></div>
<svg class="a" style="left:23.8px;top:351.8px" width="24" height="24" viewBox="0 0 24 24" fill="#8096a9" color="#8096a9"><path d="M6.62 10.79c1.44 2.83 3.76 5.14 6.59 6.59l2.2-2.2c.27-.27.67-.36 1.02-.24 1.12.37 2.33.57 3.57.57.55 0 1 .45 1 1V20c0 .55-.45 1-1 1-9.39 0-17-7.61-17-17 0-.55.45-1 1-1h3.5c.55 0 1 .45 1 1 0 1.25.2 2.45.57 3.57.11.35.03.74-.25 1.02l-2.2 2.2z"/></svg>
<svg class="a" style="left:52.5px;top:356.4px" width="15" height="15.4" viewBox="0 0 15 15.4" fill="#8096a9" color="#8096a9"><g fill="none" stroke="currentColor" stroke-width="1.350"><circle cx="7.500" cy="8.700" r="5.900"/><path d="M4.700 8.900l1.900 1.900 3.600-3.700"/><path d="M.6 3.400L3.700.8M14.400 3.400L11.300.8" stroke-width="1.400"/></g></svg>
<span class="t" style="left:76px;top:351px;font-size:14px;color:#434a54;font-weight:700;transform:scaleX(1.005);">15:00</span>
<span class="t" style="left:76px;top:368px;font-size:10px;color:#434a54;font-weight:700;transform:scaleX(1.027);">14.06.18</span>
<svg class="a" style="left:133.2px;top:355px" width="20.4" height="18" viewBox="0 0 20.4 18" fill="#16a085" color="#16a085"><path d="M0 0h10v6.500H6.800V18H0z"/><g fill="#fff"><rect x="2.100" y="2" width="1.900" height="1.900"/><rect x="6" y="2" width="1.900" height="1.900"/><rect x="2.100" y="6" width="1.900" height="1.900"/><rect x="2.100" y="10" width="1.900" height="1.900"/><rect x="2.100" y="14" width="1.900" height="1.900"/></g><g transform="translate(7.800 6) scale(.7 .667)"><path d="M15.920 3.010C15.720 2.420 15.160 2 14.500 2H12V0H6v2H3.500c-.66 0-1.210.42-1.420 1.010L0 9v8c0 .55.45 1 1 1h1c.55 0 1-.45 1-1v-1h12v1c0 .55.45 1 1 1h1c.55 0 1-.45 1-1V9l-2.080-5.990zM3.500 13c-.83 0-1.500-.67-1.500-1.500S2.670 10 3.500 10s1.500.67 1.500 1.500S4.330 13 3.500 13zm11 0c-.83 0-1.500-.67-1.500-1.500s.67-1.500 1.500-1.500 1.500.67 1.500 1.500-.67 1.500-1.500 1.500zM2 8l1.500-4.500h11L16 8H2z"/></g></svg>
<span class="t" style="left:169px;top:354px;font-size:18px;color:#c0392b;transform:scaleX(0.978);-webkit-text-stroke:.7px #c0392b;">07</span>
<span class="t" style="left:203px;top:356px;font-size:11.5px;color:#c0392b;transform:scaleX(1.047);-webkit-text-stroke:.5px #c0392b;">30</span>
<div class="a" style="left:168px;top:373px;width:48px;height:3px;background:#c8c8c8"></div>
<div class="a" style="left:168px;top:373px;width:26px;height:3px;background:#c0392b"></div>
<span class="t" style="left:235px;top:350px;font-size:13px;color:#434a54;font-weight:700;transform:scaleX(0.987);">г. Омск, Мира 15б</span>
<span class="t" style="left:235px;top:366px;font-size:12.5px;color:#434a54;transform:scaleX(0.974);">г. Омск, Заозерная 18</span>
<span class="t" style="left:444px;top:356px;font-size:17.5px;color:#434a54;font-weight:700;transform:scaleX(1.009);">MF</span>
<svg class="a" style="left:495px;top:351.8px" width="24" height="24" viewBox="0 0 24 24" fill="#8096a9" color="#8096a9"><path d="M21 18v1c0 1.100-.9 2-2 2H5c-1.110 0-2-.9-2-2V5c0-1.100.89-2 2-2h14c1.100 0 2 .9 2 2v1h-9c-1.110 0-2 .9-2 2v8c0 1.100.89 2 2 2h9zm-9-2h10V8H12v8zm4-2.500c-.83 0-1.500-.67-1.500-1.500s.67-1.500 1.500-1.500 1.500.67 1.500 1.500-.67 1.500-1.500 1.500z"/></svg>
<span class="t" style="left:539.2px;top:355px;font-size:18px;color:#434a54;font-weight:700;transform:scaleX(1.039);">52118</span>
<span class="t" style="left:598px;top:351px;font-size:12px;color:#434a54;transform:scaleX(1.019);">Рено Логан черный</span>
<span class="t" style="left:598px;top:366px;font-size:11.5px;color:#434a54;font-weight:700;transform:scaleX(1.035);">Б846УХ55</span>
<svg class="a" style="left:851px;top:357px" width="16" height="12.5" viewBox="0 0 16 12.5" fill="#93b852" color="#93b852"><g fill="none" stroke="currentColor" stroke-width="1.500" stroke-linejoin="round"><rect x=".75" y=".75" width="14.500" height="11" rx=".8"/><path d="M1.200 1.500L8 6.700l6.800-5.200" stroke-width="1.400"/></g></svg>
<svg class="a" style="left:873px;top:357px" width="17" height="15" viewBox="0 0 17 15" fill="#434a54" color="#434a54"><path fill="none" stroke="currentColor" stroke-width="1.500" stroke-linejoin="round" d="M10.500 11.700H1.500a.75.75 0 0 1-.75-.75V1.500A.75.75 0 0 1 1.500.75h12.200a.75.75 0 0 1 .75.75V8"/><path fill="none" stroke="currentColor" stroke-width="1.400" d="M1 1.500l6.600 5 6.600-5"/><path d="M11.800 10l3.600 3.600M15.400 10l-3.600 3.600" stroke="currentColor" stroke-width="1.400" fill="none"/></svg>
<svg class="a" style="left:895px;top:355px" width="15.8" height="15.5" viewBox="0 0 16.5 15.5" fill="#93b852" color="#93b852"><g fill="none" stroke="currentColor" stroke-width="1.500" stroke-linejoin="round"><path d="M.75 5.400L8.250.9l7.500 4.500v8.600a.75.75 0 0 1-.75.75H1.500a.75.75 0 0 1-.75-.75z"/><path d="M1.200 5.800l7.050 4.300 7.050-4.300" stroke-width="1.400"/></g></svg>
<svg class="a" style="left:915.8px;top:353.2px" width="18.6" height="18.6" viewBox="0 0 24 24" fill="#93b852" color="#93b852"><path d="M18.500 6C15.460 6 13 8.460 13 11.500c0 1.330.47 2.550 1.260 3.500H9.740c.79-.95 1.260-2.170 1.260-3.500C11 8.460 8.540 6 5.500 6S0 8.460 0 11.500 2.460 17 5.500 17h13c3.040 0 5.500-2.460 5.500-5.500S21.540 6 18.500 6zm-13 9C3.570 15 2 13.430 2 11.500S3.570 8 5.500 8 9 9.570 9 11.500 7.430 15 5.500 15zm13 0c-1.930 0-3.500-1.570-3.500-3.500S16.570 8 18.500 8 22 9.570 22 11.500 20.430 15 18.500 15z"/></svg>
<div class="a" style="left:16px;top:384px;width:922px;height:40px;background:#fff;border-bottom:1px solid #e0e0e0"></div>
<svg class="a" style="left:24px;top:392px" width="24" height="24" viewBox="0 0 24 24" fill="#8096a9" color="#8096a9"><path d="M20 4H4c-1.100 0-1.990.9-1.990 2L2 18c0 1.100.9 2 2 2h16c1.100 0 2-.9 2-2V6c0-1.100-.9-2-2-2zm-5 14H4v-4h11v4zm0-5H4V9h11v4zm5 5h-4V9h4v9z"/></svg>
<span class="t" style="left:76px;top:391px;font-size:14px;color:#434a54;font-weight:700;transform:scaleX(1.005);">15:00</span>
<span class="t" style="left:76px;top:408px;font-size:10px;color:#434a54;font-weight:700;transform:scaleX(1.027);">14.06.18</span>
<svg class="a" style="left:133px;top:398.4px" width="20" height="11.3" viewBox="0 0 20.3 11.7" fill="#f39c12" color="#f39c12" preserveAspectRatio="none"><path d="M3.200 0h13.900a3.200 3.200 0 0 1 3.200 3.200v8.500H0V3.200A3.200 3.200 0 0 1 3.200 0z"/><g fill="#fff"><rect x="3.100" y="3.200" width="2.300" height="2.300"/><rect x="8.800" y="3.200" width="2.300" height="2.300"/><rect x="14.500" y="3.200" width="2.300" height="2.300"/><rect x="5.950" y="5.500" width="2.300" height="2.300"/><rect x="11.650" y="5.500" width="2.300" height="2.300"/></g></svg>
<span class="t" style="left:169px;top:394px;font-size:18px;color:#434a54;transform:scaleX(0.978);-webkit-text-stroke:.7px #434a54;">07</span>
<span class="t" style="left:203px;top:396px;font-size:11.5px;color:#434a54;transform:scaleX(1.047);-webkit-text-stroke:.5px #434a54;">30</span>
<div class="a" style="left:168px;top:413px;width:48px;height:3px;background:#c8c8c8"></div>
<div class="a" style="left:168px;top:413px;width:26px;height:3px;background:#434a54"></div>
<span class="t" style="left:235px;top:390px;font-size:13px;color:#434a54;font-weight:700;transform:scaleX(0.976);">г. Омск, Красный Путь 182</span>
<span class="t" style="left:235px;top:406px;font-size:12.5px;color:#434a54;transform:scaleX(0.968);">г. Омск, 21 Амурская, 24</span>
<span class="t" style="left:444px;top:396px;font-size:17.5px;color:#434a54;font-weight:700;transform:scaleX(0.949);">UK</span>
<svg class="a" style="left:499.8px;top:395.8px" width="14.4" height="16.4" viewBox="0 0 14.4 16.4" fill="#8096a9" color="#8096a9"><path d="M.2 3.600v6.100h6.100z"/><path d="M3 6.900L9.900 0" stroke="currentColor" stroke-width="2.300"/><path d="M14.200 12.900V6.800H8.100z"/><path d="M11.400 9.600L4.500 16.500" stroke="currentColor" stroke-width="2.300"/></svg>
<span class="t" style="left:539.2px;top:395px;font-size:18px;color:#434a54;font-weight:700;transform:scaleX(1.039);">52118</span>
<span class="t" style="left:598px;top:391px;font-size:12px;color:#434a54;transform:scaleX(1.019);">Рено Логан черный</span>
<span class="t" style="left:598px;top:406px;font-size:11.5px;color:#434a54;font-weight:700;transform:scaleX(1.035);">Б846УХ55</span>
<div class="a" style="left:808px;top:388px;width:32px;height:32px;border:2px solid #3bc0e6;border-radius:50%;background:#fff"></div>
<svg class="a" style="left:812.2px;top:392px" width="24" height="24" viewBox="0 0 24 24" fill="#3bc0e6" color="#3bc0e6"><path d="M6.62 10.79c1.44 2.83 3.76 5.14 6.59 6.59l2.2-2.2c.27-.27.67-.36 1.02-.24 1.12.37 2.33.57 3.57.57.55 0 1 .45 1 1V20c0 .55-.45 1-1 1-9.39 0-17-7.61-17-17 0-.55.45-1 1-1h3.5c.55 0 1 .45 1 1 0 1.25.2 2.45.57 3.57.11.35.03.74-.25 1.02l-2.2 2.2z"/></svg>
<svg class="a" style="left:917.2px;top:395px" width="15.5" height="15.6" viewBox="0 0 16.5 15.5" fill="#93b852" color="#93b852"><g fill="none" stroke="currentColor" stroke-width="1.500" stroke-linejoin="round"><path d="M.75 5.400L8.250.9l7.500 4.500v8.600a.75.75 0 0 1-.75.75H1.500a.75.75 0 0 1-.75-.75z"/><path d="M1.200 5.800l7.050 4.300 7.050-4.300" stroke-width="1.400"/></g></svg>
<div class="a" style="left:16px;top:424px;width:922px;height:40px;background:#fff;border-bottom:1px solid #e0e0e0"></div>
<svg class="a" style="left:24px;top:432px" width="24" height="24" viewBox="0 0 24 24" fill="#8096a9" color="#8096a9"><path d="M10.090 15.590L11.500 17l5-5-5-5-1.410 1.410L12.670 11H3v2h9.670l-2.580 2.590zM19 3H5c-1.110 0-2 .9-2 2v4h2V5h14v14H5v-4H3v4c0 1.100.89 2 2 2h14c1.100 0 2-.9 2-2V5c0-1.100-.9-2-2-2z"/></svg>
<span class="t" style="left:76px;top:431px;font-size:14px;color:#434a54;font-weight:700;transform:scaleX(1.005);">15:00</span>
<span class="t" style="left:76px;top:448px;font-size:10px;color:#434a54;font-weight:700;transform:scaleX(1.027);">14.06.18</span>
<svg class="a" style="left:130.8px;top:431.7px" width="24.3" height="24.3" viewBox="0 0 24 24" fill="#93b852" color="#93b852"><path d="M14.400 6L14 4H5v17h2v-7h5.600l.4 2h7V6z"/></svg>
<span class="t" style="left:169px;top:434px;font-size:18px;color:#434a54;transform:scaleX(0.978);-webkit-text-stroke:.7px #434a54;">07</span>
<span class="t" style="left:203px;top:436px;font-size:11.5px;color:#434a54;transform:scaleX(1.047);-webkit-text-stroke:.5px #434a54;">30</span>
<div class="a" style="left:168px;top:453px;width:48px;height:3px;background:#c8c8c8"></div>
<div class="a" style="left:168px;top:453px;width:26px;height:3px;background:#434a54"></div>
<span class="t" style="left:235px;top:430px;font-size:13px;color:#434a54;font-weight:700;transform:scaleX(0.976);">г. Омск, Красный Путь 182</span>
<span class="t" style="left:235px;top:446px;font-size:12.5px;color:#434a54;transform:scaleX(0.968);">г. Омск, 21 Амурская, 24</span>
<span class="t" style="left:444px;top:436px;font-size:17.5px;color:#434a54;font-weight:700;transform:scaleX(0.922);">FR</span>
<svg class="a" style="left:499.8px;top:435.8px" width="14.4" height="16.4" viewBox="0 0 14.4 16.4" fill="#8096a9" color="#8096a9"><path d="M.2 3.600v6.100h6.100z"/><path d="M3 6.900L9.900 0" stroke="currentColor" stroke-width="2.300"/><path d="M14.200 12.900V6.800H8.100z"/><path d="M11.400 9.600L4.500 16.500" stroke="currentColor" stroke-width="2.300"/></svg>
<span class="t" style="left:539.2px;top:435px;font-size:18px;color:#434a54;font-weight:700;transform:scaleX(1.039);">52118</span>
<span class="t" style="left:598px;top:431px;font-size:12px;color:#434a54;transform:scaleX(1.019);">Рено Логан черный</span>
<span class="t" style="left:598px;top:446px;font-size:11.5px;color:#434a54;font-weight:700;transform:scaleX(1.035);">Б846УХ55</span>
<svg class="a" style="left:917.2px;top:435px" width="15.5" height="15.6" viewBox="0 0 16.5 15.5" fill="#93b852" color="#93b852"><g fill="none" stroke="currentColor" stroke-width="1.500" stroke-linejoin="round"><path d="M.75 5.400L8.250.9l7.500 4.500v8.600a.75.75 0 0 1-.75.75H1.500a.75.75 0 0 1-.75-.75z"/><path d="M1.200 5.800l7.050 4.300 7.050-4.300" stroke-width="1.400"/></g></svg>
<div class="a" style="left:16px;top:464px;width:922px;height:40px;background:#fff;border-bottom:1px solid #e0e0e0"></div>
<svg class="a" style="left:24px;top:472px" width="24" height="24" viewBox="0 0 24 24" fill="#8096a9" color="#8096a9"><path d="M15.500 1h-8C6.120 1 5 2.120 5 3.500v17C5 21.880 6.120 23 7.500 23h8c1.380 0 2.500-1.120 2.500-2.500v-17C18 2.120 16.880 1 15.500 1zm-4 21c-.83 0-1.500-.67-1.500-1.500s.67-1.500 1.500-1.500 1.500.67 1.500 1.500-.67 1.500-1.500 1.500zm4.500-4H7V4h9v14z"/></svg>
<svg class="a" style="left:52.5px;top:476.4px" width="15" height="15.4" viewBox="0 0 15 15.4" fill="#8096a9" color="#8096a9"><g fill="none" stroke="currentColor" stroke-width="1.350"><circle cx="7.500" cy="8.700" r="5.900"/><path d="M4.700 8.900l1.900 1.900 3.600-3.700"/><path d="M.6 3.400L3.700.8M14.400 3.400L11.300.8" stroke-width="1.400"/></g></svg>
<span class="t" style="left:76px;top:471px;font-size:14px;color:#434a54;font-weight:700;transform:scaleX(1.005);">15:00</span>
<span class="t" style="left:76px;top:488px;font-size:10px;color:#434a54;font-weight:700;transform:scaleX(1.027);">14.06.18</span>
<svg class="a" style="left:135.4px;top:474px" width="16.2" height="19.6" viewBox="0 0 16.5 20" fill="#93b852" color="#93b852"><path fill="none" stroke="currentColor" stroke-width="1.500" stroke-linejoin="round" d="M.75 2.600Q8.250 .2 15.750 2.600V10.500Q15.750 15.200 8.250 19.100Q.75 15.200 .75 10.500Z"/></svg>
<span class="t" style="left:169px;top:474px;font-size:18px;color:#434a54;transform:scaleX(0.978);-webkit-text-stroke:.7px #434a54;">07</span>
<span class="t" style="left:203px;top:476px;font-size:11.5px;color:#434a54;transform:scaleX(1.047);-webkit-text-stroke:.5px #434a54;">30</span>
<div class="a" style="left:168px;top:493px;width:48px;height:3px;background:#c8c8c8"></div>
<div class="a" style="left:168px;top:493px;width:26px;height:3px;background:#434a54"></div>
<span class="t" style="left:235px;top:470px;font-size:13px;color:#434a54;font-weight:700;transform:scaleX(0.976);">г. Омск, 22 апреля 10а</span>
<span class="t" style="left:235px;top:486px;font-size:12.5px;color:#434a54;transform:scaleX(0.985);">г. Омск, Новоалександровская 207</span>
<span class="t" style="left:444px;top:476px;font-size:17.5px;color:#434a54;font-weight:700;transform:scaleX(0.992);">MD</span>
<svg class="a" style="left:495px;top:472px" width="24" height="24" viewBox="0 0 24 24" fill="#8096a9" color="#8096a9"><path d="M20 4H4c-1.110 0-1.990.89-1.990 2L2 18c0 1.110.89 2 2 2h16c1.110 0 2-.89 2-2V6c0-1.110-.89-2-2-2zm0 14H4v-6h16v6zm0-10H4V6h16v2z"/></svg>
<span class="t" style="left:539.2px;top:475px;font-size:18px;color:#434a54;font-weight:700;transform:scaleX(1.039);">52118</span>
<span class="t" style="left:598px;top:471px;font-size:12px;color:#434a54;transform:scaleX(1.019);">Рено Логан черный</span>
<span class="t" style="left:598px;top:486px;font-size:11.5px;color:#434a54;font-weight:700;transform:scaleX(1.035);">Б846УХ55</span>
<div class="a" style="left:808px;top:468px;width:32px;height:32px;border:2px solid #3bc0e6;border-radius:50%;background:#fff"></div>
<svg class="a" style="left:816px;top:476px" width="16" height="13.8" viewBox="0 0 16 14" fill="#3bc0e6" color="#3bc0e6"><path d="M2.200 0h1.500v3.300h8.600V0h1.500v3.300H16V14H0V3.300h2.200z"/><rect x="1.900" y="5.200" width="12.200" height="3.700" fill="#fff"/><rect x="3.800" y="6.300" width="2.800" height="1.500"/><rect x="9.300" y="6.300" width="2.800" height="1.500"/></svg>
<svg class="a" style="left:851px;top:477px" width="16" height="12.5" viewBox="0 0 16 12.5" fill="#93b852" color="#93b852"><g fill="none" stroke="currentColor" stroke-width="1.500" stroke-linejoin="round"><rect x=".75" y=".75" width="14.500" height="11" rx=".8"/><path d="M1.200 1.500L8 6.700l6.800-5.200" stroke-width="1.400"/></g></svg>
<svg class="a" style="left:873px;top:477px" width="17" height="15" viewBox="0 0 17 15" fill="#434a54" color="#434a54"><path fill="none" stroke="currentColor" stroke-width="1.500" stroke-linejoin="round" d="M10.500 11.700H1.500a.75.75 0 0 1-.75-.75V1.500A.75.75 0 0 1 1.500.75h12.200a.75.75 0 0 1 .75.75V8"/><path fill="none" stroke="currentColor" stroke-width="1.400" d="M1 1.500l6.600 5 6.600-5"/><path d="M11.800 10l3.600 3.600M15.400 10l-3.600 3.600" stroke="currentColor" stroke-width="1.400" fill="none"/></svg>
<svg class="a" style="left:895px;top:475px" width="15.8" height="15.5" viewBox="0 0 16.5 15.5" fill="#93b852" color="#93b852"><g fill="none" stroke="currentColor" stroke-width="1.500" stroke-linejoin="round"><path d="M.75 5.400L8.250.9l7.500 4.500v8.600a.75.75 0 0 1-.75.75H1.500a.75.75 0 0 1-.75-.75z"/><path d="M1.200 5.800l7.050 4.300 7.050-4.300" stroke-width="1.400"/></g></svg>
<svg class="a" style="left:915.8px;top:473.2px" width="18.6" height="18.6" viewBox="0 0 24 24" fill="#93b852" color="#93b852"><path d="M18.500 6C15.460 6 13 8.460 13 11.500c0 1.330.47 2.550 1.260 3.500H9.740c.79-.95 1.260-2.170 1.260-3.500C11 8.460 8.540 6 5.500 6S0 8.460 0 11.500 2.460 17 5.500 17h13c3.040 0 5.500-2.460 5.500-5.500S21.540 6 18.500 6zm-13 9C3.570 15 2 13.430 2 11.500S3.570 8 5.500 8 9 9.570 9 11.500 7.430 15 5.500 15zm13 0c-1.930 0-3.500-1.570-3.500-3.500S16.570 8 18.500 8 22 9.570 22 11.500 20.430 15 18.500 15z"/></svg>
<div class="a" style="left:16px;top:504px;width:922px;height:40px;background:#fff;border-bottom:1px solid #e0e0e0"></div>
<svg class="a" style="left:16px;top:504px" width="16" height="16" viewBox="0 0 16 16"><path d="M0 0h16L0 16z" fill="#93b852"/></svg>
<svg class="a" style="left:26.1px;top:513.8px" width="20" height="20.6" viewBox="0 0 20 20.4" fill="#8096a9" color="#8096a9"><circle cx="11.7" cy="1.9" r="1.8"/><path d="M9.500 4.500h3.600c.6 0 1.100.2 1.500.7L18.500.5l1.300 1-4.600 6c-.3.400-.7.700-1.100.8v12h-1.800v-7.400h-.7v7.400H9.800V8.800l-1.100 3.900-1.500-.4 1.300-5.900c.2-1.100.6-1.900 1-1.900z"/><path d="M0 14.700h2.900v-1.200h2.400v1.200h2.800v5.600H0z"/></svg>
<span class="t" style="left:76px;top:511px;font-size:14px;color:#434a54;font-weight:700;transform:scaleX(1.005);">15:00</span>
<span class="t" style="left:76px;top:528px;font-size:10px;color:#434a54;font-weight:700;transform:scaleX(1.027);">14.06.18</span>
<svg class="a" style="left:133.6px;top:515px" width="18.5" height="18" viewBox="0 0 19 18" fill="#2980b9" color="#2980b9"><path d="M15.920 3.010C15.720 2.420 15.160 2 14.500 2H12V0H6v2H3.500c-.66 0-1.210.42-1.420 1.010L0 9v8c0 .55.45 1 1 1h1c.55 0 1-.45 1-1v-1h12v1c0 .55.45 1 1 1h1c.55 0 1-.45 1-1V9l-2.080-5.990zM3.500 13c-.83 0-1.500-.67-1.500-1.500S2.670 10 3.500 10s1.500.67 1.500 1.500S4.330 13 3.500 13zm11 0c-.83 0-1.500-.67-1.500-1.500s.67-1.500 1.500-1.500 1.500.67 1.500 1.500-.67 1.500-1.500 1.500zM2 8l1.500-4.500h11L16 8H2z"/><circle cx="13.100" cy="12.400" r="6.700" fill="#fff"/><circle cx="13.100" cy="12.400" r="5.700"/><path d="M10.100 12.500l2.100 2.100 4.100-4.200" fill="none" stroke="#fff" stroke-width="1.300"/></svg>
<span class="t" style="left:169px;top:514px;font-size:18px;color:#f39c12;transform:scaleX(0.978);-webkit-text-stroke:.7px #f39c12;">07</span>
<span class="t" style="left:203px;top:516px;font-size:11.5px;color:#f39c12;transform:scaleX(1.047);-webkit-text-stroke:.5px #f39c12;">30</span>
<div class="a" style="left:168px;top:533px;width:48px;height:3px;background:#c8c8c8"></div>
<div class="a" style="left:168px;top:533px;width:26px;height:3px;background:#f39c12"></div>
<span class="t" style="left:235px;top:510px;font-size:13px;color:#434a54;font-weight:700;transform:scaleX(0.976);">г. Омск, Красный Путь 182</span>
<span class="t" style="left:235px;top:526px;font-size:12.5px;color:#434a54;transform:scaleX(0.968);">г. Омск, 21 Амурская, 24</span>
<span class="t" style="left:444px;top:516px;font-size:17.5px;color:#434a54;font-weight:700;transform:scaleX(0.949);">UN</span>
<svg class="a" style="left:499.8px;top:515.8px" width="14.4" height="16.4" viewBox="0 0 14.4 16.4" fill="#8096a9" color="#8096a9"><path d="M.2 3.600v6.100h6.100z"/><path d="M3 6.900L9.900 0" stroke="currentColor" stroke-width="2.300"/><path d="M14.200 12.900V6.800H8.100z"/><path d="M11.400 9.600L4.500 16.500" stroke="currentColor" stroke-width="2.300"/></svg>
<span class="t" style="left:539.2px;top:515px;font-size:18px;color:#434a54;font-weight:700;transform:scaleX(1.039);">52118</span>
<span class="t" style="left:598px;top:511px;font-size:12px;color:#434a54;transform:scaleX(1.019);">Рено Логан черный</span>
<span class="t" style="left:598px;top:526px;font-size:11.5px;color:#434a54;font-weight:700;transform:scaleX(1.035);">Б846УХ55</span>
<svg class="a" style="left:917.2px;top:515px" width="15.5" height="15.6" viewBox="0 0 16.5 15.5" fill="#93b852" color="#93b852"><g fill="none" stroke="currentColor" stroke-width="1.500" stroke-linejoin="round"><path d="M.75 5.400L8.250.9l7.500 4.500v8.600a.75.75 0 0 1-.75.75H1.500a.75.75 0 0 1-.75-.75z"/><path d="M1.200 5.800l7.050 4.300 7.050-4.300" stroke-width="1.400"/></g></svg>
<div class="a" style="left:16px;top:544px;width:922px;height:40px;background:#fff;border-bottom:1px solid #e0e0e0"></div>
<svg class="a" style="left:23.8px;top:551.8px" width="24" height="24" viewBox="0 0 24 24" fill="#8096a9" color="#8096a9"><path d="M6.62 10.79c1.44 2.83 3.76 5.14 6.59 6.59l2.2-2.2c.27-.27.67-.36 1.02-.24 1.12.37 2.33.57 3.57.57.55 0 1 .45 1 1V20c0 .55-.45 1-1 1-9.39 0-17-7.61-17-17 0-.55.45-1 1-1h3.5c.55 0 1 .45 1 1 0 1.25.2 2.45.57 3.57.11.35.03.74-.25 1.02l-2.2 2.2z"/></svg>
<svg class="a" style="left:52.5px;top:556.4px" width="15" height="15.4" viewBox="0 0 15 15.4" fill="#8096a9" color="#8096a9"><g fill="none" stroke="currentColor" stroke-width="1.350"><circle cx="7.500" cy="8.700" r="5.900"/><path d="M4.700 8.900l1.900 1.900 3.600-3.700"/><path d="M.6 3.400L3.700.8M14.400 3.400L11.300.8" stroke-width="1.400"/></g></svg>
<span class="t" style="left:76px;top:551px;font-size:14px;color:#434a54;font-weight:700;transform:scaleX(1.005);">15:00</span>
<span class="t" style="left:76px;top:568px;font-size:10px;color:#434a54;font-weight:700;transform:scaleX(1.027);">14.06.18</span>
<svg class="a" style="left:133.2px;top:555px" width="20.4" height="18" viewBox="0 0 20.4 18" fill="#16a085" color="#16a085"><path d="M0 0h10v6.500H6.800V18H0z"/><g fill="#fff"><rect x="2.100" y="2" width="1.900" height="1.900"/><rect x="6" y="2" width="1.900" height="1.900"/><rect x="2.100" y="6" width="1.900" height="1.900"/><rect x="2.100" y="10" width="1.900" height="1.900"/><rect x="2.100" y="14" width="1.900" height="1.900"/></g><g transform="translate(7.800 6) scale(.7 .667)"><path d="M15.920 3.010C15.720 2.420 15.160 2 14.500 2H12V0H6v2H3.500c-.66 0-1.210.42-1.420 1.010L0 9v8c0 .55.45 1 1 1h1c.55 0 1-.45 1-1v-1h12v1c0 .55.45 1 1 1h1c.55 0 1-.45 1-1V9l-2.080-5.990zM3.500 13c-.83 0-1.500-.67-1.500-1.500S2.670 10 3.500 10s1.500.67 1.500 1.500S4.330 13 3.500 13zm11 0c-.83 0-1.500-.67-1.500-1.500s.67-1.500 1.500-1.500 1.500.67 1.500 1.500-.67 1.500-1.500 1.500zM2 8l1.500-4.500h11L16 8H2z"/></g></svg>
<span class="t" style="left:169px;top:554px;font-size:18px;color:#c0392b;transform:scaleX(0.978);-webkit-text-stroke:.7px #c0392b;">07</span>
<span class="t" style="left:203px;top:556px;font-size:11.5px;color:#c0392b;transform:scaleX(1.047);-webkit-text-stroke:.5px #c0392b;">30</span>
<div class="a" style="left:168px;top:573px;width:48px;height:3px;background:#c8c8c8"></div>
<div class="a" style="left:168px;top:573px;width:26px;height:3px;background:#c0392b"></div>
<span class="t" style="left:235px;top:550px;font-size:13px;color:#434a54;font-weight:700;transform:scaleX(0.987);">г. Омск, Мира 15б</span>
<span class="t" style="left:235px;top:566px;font-size:12.5px;color:#434a54;transform:scaleX(0.974);">г. Омск, Заозерная 18</span>
<span class="t" style="left:444px;top:556px;font-size:17.5px;color:#434a54;font-weight:700;transform:scaleX(1.009);">MF</span>
<svg class="a" style="left:495px;top:551.8px" width="24" height="24" viewBox="0 0 24 24" fill="#8096a9" color="#8096a9"><path d="M21 18v1c0 1.100-.9 2-2 2H5c-1.110 0-2-.9-2-2V5c0-1.100.89-2 2-2h14c1.100 0 2 .9 2 2v1h-9c-1.110 0-2 .9-2 2v8c0 1.100.89 2 2 2h9zm-9-2h10V8H12v8zm4-2.500c-.83 0-1.500-.67-1.500-1.500s.67-1.500 1.500-1.500 1.500.67 1.500 1.500-.67 1.500-1.500 1.500z"/></svg>
<span class="t" style="left:539.2px;top:555px;font-size:18px;color:#434a54;font-weight:700;transform:scaleX(1.039);">52118</span>
<span class="t" style="left:598px;top:551px;font-size:12px;color:#434a54;transform:scaleX(1.019);">Рено Логан черный</span>
<span class="t" style="left:598px;top:566px;font-size:11.5px;color:#434a54;font-weight:700;transform:scaleX(1.035);">Б846УХ55</span>
<svg class="a" style="left:851px;top:557px" width="16" height="12.5" viewBox="0 0 16 12.5" fill="#93b852" color="#93b852"><g fill="none" stroke="currentColor" stroke-width="1.500" stroke-linejoin="round"><rect x=".75" y=".75" width="14.500" height="11" rx=".8"/><path d="M1.200 1.500L8 6.700l6.800-5.200" stroke-width="1.400"/></g></svg>
<svg class="a" style="left:873px;top:557px" width="17" height="15" viewBox="0 0 17 15" fill="#434a54" color="#434a54"><path fill="none" stroke="currentColor" stroke-width="1.500" stroke-linejoin="round" d="M10.500 11.700H1.500a.75.75 0 0 1-.75-.75V1.500A.75.75 0 0 1 1.500.75h12.200a.75.75 0 0 1 .75.75V8"/><path fill="none" stroke="currentColor" stroke-width="1.400" d="M1 1.500l6.600 5 6.600-5"/><path d="M11.800 10l3.600 3.600M15.400 10l-3.600 3.600" stroke="currentColor" stroke-width="1.400" fill="none"/></svg>
<svg class="a" style="left:895px;top:555px" width="15.8" height="15.5" viewBox="0 0 16.5 15.5" fill="#93b852" color="#93b852"><g fill="none" stroke="currentColor" stroke-width="1.500" stroke-linejoin="round"><path d="M.75 5.400L8.250.9l7.500 4.500v8.600a.75.75 0 0 1-.75.75H1.500a.75.75 0 0 1-.75-.75z"/><path d="M1.200 5.800l7.050 4.300 7.050-4.300" stroke-width="1.400"/></g></svg>
<svg class="a" style="left:915.8px;top:553.2px" width="18.6" height="18.6" viewBox="0 0 24 24" fill="#93b852" color="#93b852"><path d="M18.500 6C15.460 6 13 8.460 13 11.500c0 1.330.47 2.550 1.260 3.500H9.740c.79-.95 1.260-2.170 1.260-3.500C11 8.460 8.540 6 5.500 6S0 8.460 0 11.500 2.460 17 5.500 17h13c3.040 0 5.500-2.460 5.500-5.500S21.540 6 18.500 6zm-13 9C3.570 15 2 13.430 2 11.500S3.570 8 5.500 8 9 9.570 9 11.500 7.430 15 5.500 15zm13 0c-1.930 0-3.500-1.570-3.500-3.500S16.570 8 18.500 8 22 9.570 22 11.500 20.430 15 18.500 15z"/></svg>
<div class="a" style="left:16px;top:584px;width:922px;height:40px;background:#fff;border-bottom:1px solid #e0e0e0"></div>
<svg class="a" style="left:24px;top:592px" width="24" height="24" viewBox="0 0 24 24" fill="#8096a9" color="#8096a9"><path d="M20 4H4c-1.100 0-1.990.9-1.990 2L2 18c0 1.100.9 2 2 2h16c1.100 0 2-.9 2-2V6c0-1.100-.9-2-2-2zm-5 14H4v-4h11v4zm0-5H4V9h11v4zm5 5h-4V9h4v9z"/></svg>
<span class="t" style="left:76px;top:591px;font-size:14px;color:#434a54;font-weight:700;transform:scaleX(1.005);">15:00</span>
<span class="t" style="left:76px;top:608px;font-size:10px;color:#434a54;font-weight:700;transform:scaleX(1.027);">14.06.18</span>
<svg class="a" style="left:133px;top:598.4px" width="20" height="11.3" viewBox="0 0 20.3 11.7" fill="#f39c12" color="#f39c12" preserveAspectRatio="none"><path d="M3.200 0h13.900a3.200 3.200 0 0 1 3.200 3.200v8.500H0V3.200A3.200 3.200 0 0 1 3.200 0z"/><g fill="#fff"><rect x="3.100" y="3.200" width="2.300" height="2.300"/><rect x="8.800" y="3.200" width="2.300" height="2.300"/><rect x="14.500" y="3.200" width="2.300" height="2.300"/><rect x="5.950" y="5.500" width="2.300" height="2.300"/><rect x="11.650" y="5.500" width="2.300" height="2.300"/></g></svg>
<span class="t" style="left:169px;top:594px;font-size:18px;color:#434a54;transform:scaleX(0.978);-webkit-text-stroke:.7px #434a54;">07</span>
<span class="t" style="left:203px;top:596px;font-size:11.5px;color:#434a54;transform:scaleX(1.047);-webkit-text-stroke:.5px #434a54;">30</span>
<div class="a" style="left:168px;top:613px;width:48px;height:3px;background:#c8c8c8"></div>
<div class="a" style="left:168px;top:613px;width:26px;height:3px;background:#434a54"></div>
<span class="t" style="left:235px;top:590px;font-size:13px;color:#434a54;font-weight:700;transform:scaleX(0.976);">г. Омск, Красный Путь 182</span>
<span class="t" style="left:235px;top:606px;font-size:12.5px;color:#434a54;transform:scaleX(0.968);">г. Омск, 21 Амурская, 24</span>
<span class="t" style="left:444px;top:596px;font-size:17.5px;color:#434a54;font-weight:700;transform:scaleX(0.949);">UK</span>
<svg class="a" style="left:499.8px;top:595.8px" width="14.4" height="16.4" viewBox="0 0 14.4 16.4" fill="#8096a9" color="#8096a9"><path d="M.2 3.600v6.100h6.100z"/><path d="M3 6.900L9.900 0" stroke="currentColor" stroke-width="2.300"/><path d="M14.200 12.900V6.800H8.100z"/><path d="M11.400 9.600L4.500 16.500" stroke="currentColor" stroke-width="2.300"/></svg>
<span class="t" style="left:539.2px;top:595px;font-size:18px;color:#434a54;font-weight:700;transform:scaleX(1.039);">52118</span>
<span class="t" style="left:598px;top:591px;font-size:12px;color:#434a54;transform:scaleX(1.019);">Рено Логан черный</span>
<span class="t" style="left:598px;top:606px;font-size:11.5px;color:#434a54;font-weight:700;transform:scaleX(1.035);">Б846УХ55</span>
<svg class="a" style="left:917.2px;top:595px" width="15.5" height="15.6" viewBox="0 0 16.5 15.5" fill="#93b852" color="#93b852"><g fill="none" stroke="currentColor" stroke-width="1.500" stroke-linejoin="round"><path d="M.75 5.400L8.250.9l7.500 4.500v8.600a.75.75 0 0 1-.75.75H1.500a.75.75 0 0 1-.75-.75z"/><path d="M1.200 5.800l7.050 4.300 7.050-4.300" stroke-width="1.400"/></g></svg>
<div class="a" style="left:16px;top:624px;width:922px;height:40px;background:#fff;border-bottom:1px solid #e0e0e0"></div>
<svg class="a" style="left:24px;top:632px" width="24" height="24" viewBox="0 0 24 24" fill="#8096a9" color="#8096a9"><path d="M10.090 15.590L11.500 17l5-5-5-5-1.410 1.410L12.670 11H3v2h9.670l-2.580 2.590zM19 3H5c-1.110 0-2 .9-2 2v4h2V5h14v14H5v-4H3v4c0 1.100.89 2 2 2h14c1.100 0 2-.9 2-2V5c0-1.100-.9-2-2-2z"/></svg>
<span class="t" style="left:76px;top:631px;font-size:14px;color:#434a54;font-weight:700;transform:scaleX(1.005);">15:00</span>
<span class="t" style="left:76px;top:648px;font-size:10px;color:#434a54;font-weight:700;transform:scaleX(1.027);">14.06.18</span>
<svg class="a" style="left:130.8px;top:631.7px" width="24.3" height="24.3" viewBox="0 0 24 24" fill="#93b852" color="#93b852"><path d="M14.400 6L14 4H5v17h2v-7h5.600l.4 2h7V6z"/></svg>
<span class="t" style="left:169px;top:634px;font-size:18px;color:#434a54;transform:scaleX(0.978);-webkit-text-stroke:.7px #434a54;">07</span>
<span class="t" style="left:203px;top:636px;font-size:11.5px;color:#434a54;transform:scaleX(1.047);-webkit-text-stroke:.5px #434a54;">30</span>
<div class="a" style="left:168px;top:653px;width:48px;height:3px;background:#c8c8c8"></div>
<div class="a" style="left:168px;top:653px;width:26px;height:3px;background:#434a54"></div>
<span class="t" style="left:235px;top:630px;font-size:13px;color:#434a54;font-weight:700;transform:scaleX(0.976);">г. Омск, Красный Путь 182</span>
<span class="t" style="left:235px;top:646px;font-size:12.5px;color:#434a54;transform:scaleX(0.968);">г. Омск, 21 Амурская, 24</span>
<span class="t" style="left:444px;top:636px;font-size:17.5px;color:#434a54;font-weight:700;transform:scaleX(0.922);">FR</span>
<svg class="a" style="left:499.8px;top:635.8px" width="14.4" height="16.4" viewBox="0 0 14.4 16.4" fill="#8096a9" color="#8096a9"><path d="M.2 3.600v6.100h6.100z"/><path d="M3 6.900L9.900 0" stroke="currentColor" stroke-width="2.300"/><path d="M14.200 12.900V6.800H8.100z"/><path d="M11.400 9.600L4.500 16.500" stroke="currentColor" stroke-width="2.300"/></svg>
<span class="t" style="left:539.2px;top:635px;font-size:18px;color:#434a54;font-weight:700;transform:scaleX(1.039);">52118</span>
<span class="t" style="left:598px;top:631px;font-size:12px;color:#434a54;transform:scaleX(1.019);">Рено Логан черный</span>
<span class="t" style="left:598px;top:646px;font-size:11.5px;color:#434a54;font-weight:700;transform:scaleX(1.035);">Б846УХ55</span>
<svg class="a" style="left:917.2px;top:635px" width="15.5" height="15.6" viewBox="0 0 16.5 15.5" fill="#93b852" color="#93b852"><g fill="none" stroke="currentColor" stroke-width="1.500" stroke-linejoin="round"><path d="M.75 5.400L8.250.9l7.500 4.500v8.600a.75.75 0 0 1-.75.75H1.500a.75.75 0 0 1-.75-.75z"/><path d="M1.200 5.800l7.050 4.300 7.050-4.300" stroke-width="1.400"/></g></svg>
</section>
<div class="a" style="left:16px;top:988px;width:932px;height:4px;background:#e0e0e0"></div>
<div class="a" style="left:964px;top:988px;width:300px;height:4px;background:#e0e0e0"></div>
<aside class="a" style="left:0;top:0">
<div class="a" style="left:964px;top:240px;width:32px;height:32px;border-radius:50%;background:#2980b9;box-shadow:0 2px 4px rgba(40,90,130,.25);"></div>
<svg class="a" style="left:968px;top:244.3px" width="24" height="24" viewBox="0 0 24 24" fill="#fff" color="#fff"><path d="M3 17.250V21h3.750L17.810 9.940l-3.750-3.750L3 17.250zM20.710 7.040c.39-.39.39-1.020 0-1.410l-2.340-2.340c-.39-.39-1.020-.39-1.410 0l-1.830 1.830 3.750 3.750 1.830-1.830z"/></svg>
<div class="a" style="left:1004px;top:240px;width:32px;height:32px;border-radius:50%;background:#2980b9;box-shadow:0 2px 4px rgba(40,90,130,.25);"></div>
<svg class="a" style="left:1008.8px;top:244.6px" width="22.5" height="22.5" viewBox="0 0 24 24" fill="#fff" color="#fff"><path d="M7.880 3.390L6.600 1.860 2 5.710l1.290 1.530 4.590-3.850zM22 5.720l-4.600-3.860-1.290 1.530 4.600 3.860L22 5.720zM12 4c-4.970 0-9 4.030-9 9s4.020 9 9 9c4.970 0 9-4.030 9-9s-4.030-9-9-9zm0 16c-3.870 0-7-3.130-7-7s3.130-7 7-7 7 3.130 7 7-3.130 7-7 7zm1-11h-2v3H8v2h3v3h2v-3h3v-2h-3V9z"/></svg>
<div class="a" style="left:1044px;top:240px;width:32px;height:32px;border-radius:50%;background:#2980b9;box-shadow:0 2px 4px rgba(40,90,130,.25);"></div>
<svg class="a" style="left:1048px;top:248.8px" width="18.5" height="18.5" viewBox="0 0 24 24" fill="#fff" color="#fff"><path d="M18.920 6.010C18.720 5.420 18.160 5 17.500 5H15V3H9v2H6.500c-.66 0-1.210.42-1.420 1.010L3 12v8c0 .55.45 1 1 1h1c.55 0 1-.45 1-1v-1h12v1c0 .55.45 1 1 1h1c.55 0 1-.45 1-1v-8l-2.080-5.990zM6.500 16c-.83 0-1.500-.67-1.500-1.500S5.670 13 6.500 13s1.500.67 1.500 1.500S7.330 16 6.500 16zm11 0c-.83 0-1.500-.67-1.500-1.500s.67-1.500 1.500-1.500 1.500.67 1.500 1.500-.67 1.500-1.500 1.500zM5 11l1.500-4.500h11L19 11H5z"/></svg>
<svg class="a" style="left:1061px;top:246px" width="8" height="8" viewBox="0 0 8 8" fill="none" stroke="#fff" stroke-width="1.300"><path d="M1 4.500l2 2 4-4.500"/></svg>
<div class="a" style="left:1232px;top:240px;width:32px;height:32px;border-radius:50%;background:#c0392b;box-shadow:0 2px 4px rgba(40,90,130,.25);"></div>
<svg class="a" style="left:1242px;top:250.8px" width="12" height="14.3" viewBox="0 0 12 14.5" fill="#fff" color="#fff"><path d="M0 0h12v13a1.500 1.500 0 0 1-1.500 1.500h-9A1.500 1.500 0 0 1 0 13z"/><path d="M3.800 5l4.400 4.400M8.200 5L3.800 9.400" stroke="#c0392b" stroke-width="2" stroke-linecap="round"/></svg>
<div class="a" style="left:972.5px;top:236px;width:30px;height:13.5px;border:1px solid #434a54;border-radius:3px;background:#fff"></div>
<span class="t" style="left:975px;top:239px;font-size:9px;color:#434a54;font-weight:700;transform:scaleX(0.919);">HOME</span>
<div class="a" style="left:1018.5px;top:236px;width:23px;height:13.5px;border:1px solid #434a54;border-radius:3px;background:#fff"></div>
<span class="t" style="left:1021.6px;top:239px;font-size:9px;color:#434a54;font-weight:700;transform:scaleX(0.883);">END</span>
<div class="a" style="left:1058.5px;top:236px;width:34px;height:13.5px;border:1px solid #434a54;border-radius:3px;background:#fff"></div>
<span class="t" style="left:1061.3px;top:239px;font-size:9px;color:#434a54;font-weight:700;transform:scaleX(0.907);">PLUS +</span>
<div class="a" style="left:1237.5px;top:236px;width:36.5px;height:13.5px;border:1px solid #434a54;border-radius:3px;background:#fff"></div>
<span class="t" style="left:1240.2px;top:239px;font-size:9px;color:#434a54;font-weight:700;transform:scaleX(0.873);">DELETE</span>
<span class="t" style="left:1001px;top:282px;font-size:11px;color:#2980b9;font-weight:700;transform:scaleX(0.854);">ПОДРОБНОСТИ</span>
<span class="t" style="left:1165.5px;top:282px;font-size:11px;color:#7f96a8;font-weight:700;transform:scaleX(0.837);">ИСТОРИЯ</span>
<div class="a" style="left:964px;top:303px;width:300px;height:1px;background:#e0e0e0"></div>
<div class="a" style="left:964px;top:301px;width:148px;height:3px;background:#2980b9"></div>
<div class="a" style="left:1256px;top:307px;width:8px;height:255.5px;background:#e0e0e0;border-radius:4px"></div>
<div class="a" style="left:964px;top:343px;width:289px;height:1px;background:#e0e0e0"></div>
<div class="a" style="left:964px;top:383px;width:289px;height:1px;background:#e0e0e0"></div>
<div class="a" style="left:964px;top:423px;width:289px;height:1px;background:#e0e0e0"></div>
<div class="a" style="left:964px;top:471px;width:289px;height:1px;background:#e0e0e0"></div>
<div class="a" style="left:964px;top:519px;width:289px;height:1px;background:#e0e0e0"></div>
<div class="a" style="left:964px;top:583px;width:289px;height:1px;background:#e0e0e0"></div>
<div class="a" style="left:964px;top:680px;width:289px;height:1px;background:#e0e0e0"></div>
<div class="a" style="left:964px;top:728px;width:289px;height:1px;background:#e0e0e0"></div>
<div class="a" style="left:964px;top:801px;width:289px;height:1px;background:#e0e0e0"></div>
<svg class="a" style="left:964px;top:312px" width="24" height="24" viewBox="0 0 24 24" fill="#8096a9" color="#8096a9"><path d="M12 2C6.500 2 2 6.500 2 12s4.500 10 10 10 10-4.500 10-10S17.500 2 12 2zm4.200 14.200L11 13V7h1.500v5.200l4.500 2.700-.8 1.300z"/></svg>
<span class="t" style="left:995px;top:317px;font-size:13px;color:#434a54;font-weight:700;transform:scaleX(0.887);">15:00 • 14 февраля 2018 СР</span>
<svg class="a" style="left:966px;top:353.7px" width="20" height="20.5" viewBox="0 0 15 15.4" fill="#8096a9" color="#8096a9"><g fill="none" stroke="currentColor" stroke-width="1.350"><circle cx="7.500" cy="8.700" r="5.900"/><path d="M4.700 8.900l1.900 1.900 3.600-3.700"/><path d="M.6 3.400L3.700.8M14.400 3.400L11.300.8" stroke-width="1.400"/></g></svg>
<span class="t" style="left:995px;top:350px;font-size:14px;color:#434a54;transform:scaleX(1.025);">Предварительный заказ</span>
<span class="t" style="left:995px;top:365px;font-size:13px;color:#434a54;font-weight:700;transform:scaleX(0.887);">15:50 • 14 февраля 2018 СР</span>
<svg class="a" style="left:963px;top:391.5px" width="25" height="24" viewBox="0 0 24 24" fill="#8096a9" color="#8096a9" preserveAspectRatio="none"><path d="M12 1c-4.970 0-9 4.030-9 9v7c0 1.660 1.340 3 3 3h3v-8H5v-2c0-3.870 3.130-7 7-7s7 3.130 7 7v2h-4v8h4v1h-7v2h6c1.660 0 3-1.340 3-3V10c0-4.970-4.030-9-9-9z"/></svg>
<span class="t" style="left:995px;top:391px;font-size:12.5px;color:#434a54;transform:scaleX(0.959);">Анастасия</span>
<span class="t" style="left:995px;top:405px;font-size:12.5px;color:#434a54;">Кропоткина</span>
<span class="t" style="left:964px;top:432px;font-size:10px;color:#7f96a8;font-weight:700;transform:scaleX(0.973);-webkit-text-stroke:.25px;">СЛУЖБА ТАКСИ</span>
<span class="t" style="left:964px;top:449px;font-size:14px;color:#434a54;transform:scaleX(1.019);">Забайкальское</span>
<span class="t" style="left:964px;top:480px;font-size:10px;color:#7f96a8;font-weight:700;transform:scaleX(0.955);-webkit-text-stroke:.25px;">ТАРИФ</span>
<span class="t" style="left:964px;top:497px;font-size:14px;color:#434a54;transform:scaleX(1.007);">Премиум</span>
<svg class="a" style="left:1231.6px;top:491px" width="15" height="10.7" viewBox="0 0 15 10.7" fill="none" stroke="#8096a9" stroke-width="2.9" stroke-linecap="round" stroke-linejoin="round"><path d="M3.45 3.45L7.5 7.249999999999999L11.55 3.45"/></svg>
<span class="t" style="left:964px;top:528px;font-size:10px;color:#7f96a8;font-weight:700;transform:scaleX(0.962);-webkit-text-stroke:.25px;">КЛИЕНТ</span>
<span class="t" style="left:964px;top:546px;font-size:14.5px;color:#434a54;font-weight:700;transform:scaleX(0.970);">+7 800 800 2000</span>
<span class="t" style="left:964px;top:562px;font-size:12px;color:#434a54;font-weight:700;transform:scaleX(0.936);">Анатолий Степанович</span>
<div class="a" style="left:1216px;top:544px;width:32px;height:32px;border-radius:50%;background:#2980b9;box-shadow:0 2px 4px rgba(40,90,130,.25);"></div>
<svg class="a" style="left:1220px;top:548px" width="24" height="24" viewBox="0 0 24 24" fill="#fff" color="#fff"><path d="M6.62 10.79c1.44 2.83 3.76 5.14 6.59 6.59l2.2-2.2c.27-.27.67-.36 1.02-.24 1.12.37 2.33.57 3.57.57.55 0 1 .45 1 1V20c0 .55-.45 1-1 1-9.39 0-17-7.61-17-17 0-.55.45-1 1-1h3.5c.55 0 1 .45 1 1 0 1.25.2 2.45.57 3.57.11.35.03.74-.25 1.02l-2.2 2.2z"/></svg>
<span class="t" style="left:964px;top:592px;font-size:10px;color:#7f96a8;font-weight:700;transform:scaleX(0.978);-webkit-text-stroke:.25px;">МАРШРУТ</span>
<svg class="a" style="left:964px;top:609px" width="24" height="24" viewBox="0 0 24 24" fill="#93b852" color="#93b852"><path d="M14.400 6L14 4H5v17h2v-7h5.600l.4 2h7V6z"/></svg>
<span class="t" style="left:995px;top:614px;font-size:14px;color:#434a54;">г. Омск, 22 апреля 10а</span>
<span class="t" style="left:995px;top:631px;font-size:12px;color:#86a5c0;transform:scaleX(1.008);">Примечание к адресу подачи</span>
<svg class="a" style="left:969px;top:653px" width="15" height="17" viewBox="0 0 15 17" fill="#8096a9" color="#8096a9"><path d="M0 0h2v17H0z"/><path d="M1.700 .4H9l.4 2H14.600v9.600H8.400l-.4-2H1.700" fill="none" stroke="currentColor" stroke-width=".8"/><g><rect x="2" y="0" width="2" height="2"/><rect x="2" y="4" width="2" height="2"/><rect x="2" y="8" width="2" height="2"/><rect x="4" y="2" width="2" height="2"/><rect x="4" y="6" width="2" height="2"/><rect x="6" y="0" width="2" height="2"/><rect x="6" y="4" width="2" height="2"/><rect x="6" y="8" width="2" height="2"/><rect x="8" y="2" width="2" height="2"/><rect x="8" y="6" width="2" height="2"/><rect x="8" y="10" width="2" height="2"/><rect x="10" y="4" width="2" height="2"/><rect x="10" y="8" width="2" height="2"/><rect x="12" y="2" width="2" height="2"/><rect x="12" y="6" width="2" height="2"/><rect x="12" y="10" width="2" height="2"/><rect x="14" y="4" width="1" height="2"/><rect x="14" y="8" width="1" height="2"/></g></svg>
<span class="t" style="left:995px;top:654px;font-size:14px;color:#434a54;transform:scaleX(1.022);">г. Омск, Новоалександровская 207</span>
<span class="t" style="left:964px;top:688px;font-size:10px;color:#7f96a8;font-weight:700;transform:scaleX(0.976);-webkit-text-stroke:.25px;">СУММА</span>
<span class="t" style="left:964px;top:703px;font-size:22.5px;color:#93b852;font-weight:700;transform:scaleX(0.950);-webkit-text-stroke:.4px;">8 540</span>
<span class="t" style="left:1017.6px;top:704px;font-size:21.5px;color:#93b852;font-weight:700;transform:scaleX(1.115);font-family:"DejaVu Sans",sans-serif;">₽</span>
<svg class="a" style="left:1120px;top:704.6px" width="18" height="15.1" viewBox="0 0 18 15.1" fill="#8096a9" color="#8096a9"><g fill="none" stroke="currentColor" stroke-width="1.500"><circle cx="2.600" cy="12.700" r="1.750"/><path d="M3.300 11V4.100a2.800 2.800 0 0 1 5.600 0v7.500a3.050 3.050 0 0 0 6.100 0V1.400"/><path d="M12.200 4.100L15 1.200l2.800 2.900"/></g></svg>
<span class="t" style="left:1142px;top:705px;font-size:17px;color:#434a54;transform:scaleX(1.080);">15.6 км</span>
<div class="a" style="left:1216px;top:688.5px;width:32px;height:32px;border-radius:50%;background:#2980b9;box-shadow:0 2px 4px rgba(40,90,130,.25);"></div>
<svg class="a" style="left:1223.2px;top:695.2px" width="17" height="19.4" viewBox="0 0 17 19.4" fill="#fff" color="#fff"><path d="M.8 16V1.800a1 1 0 0 1 1-1h13.400a1 1 0 0 1 1 1V16" fill="none" stroke="currentColor" stroke-width="1.600"/><path d="M0 15.200h17v4.200l-2.125-1.700-2.125 1.700-2.125-1.700L8.500 19.400l-2.125-1.700-2.125 1.700-2.125-1.700L0 19.400z"/><rect x="4" y="3.600" width="6.400" height="1.900"/><rect x="4" y="7" width="6.400" height="1.900"/><rect x="4" y="10.400" width="6.400" height="1.900"/><rect x="11.700" y="3.600" width="2.100" height="1.900"/><rect x="11.700" y="7" width="2.100" height="1.900"/><rect x="11.700" y="10.400" width="2.100" height="1.900"/></svg>
<svg class="a" style="left:965.5px;top:740px" width="20" height="11" viewBox="0 0 20.3 11.7" fill="#f39c12" color="#f39c12" preserveAspectRatio="none"><path d="M3.200 0h13.900a3.200 3.200 0 0 1 3.200 3.200v8.500H0V3.200A3.200 3.200 0 0 1 3.200 0z"/><g fill="#fff"><rect x="3.100" y="3.200" width="2.300" height="2.300"/><rect x="8.800" y="3.200" width="2.300" height="2.300"/><rect x="14.500" y="3.200" width="2.300" height="2.300"/><rect x="5.950" y="5.500" width="2.300" height="2.300"/><rect x="11.650" y="5.500" width="2.300" height="2.300"/></g></svg>
<span class="t" style="left:994.6px;top:738px;font-size:14px;color:#434a54;transform:scaleX(1.028);">Заказ выполняется</span>
<span class="t" style="left:964px;top:764px;font-size:12.5px;color:#434a54;transform:scaleX(0.978);">Рено Логан черный</span>
<span class="t" style="left:964px;top:779px;font-size:11.5px;color:#434a54;font-weight:700;transform:scaleX(1.035);">Б846УХ55</span>
<span class="t" style="left:1156.4px;top:768px;font-size:18px;color:#434a54;font-weight:700;transform:scaleX(1.033);">52118</span>
<div class="a" style="left:1216px;top:761px;width:32px;height:32px;border-radius:50%;background:#2980b9;box-shadow:0 2px 4px rgba(40,90,130,.25);"></div>
<svg class="a" style="left:1220px;top:765px" width="24" height="24" viewBox="0 0 24 24" fill="#fff" color="#fff"><path d="M6.62 10.79c1.44 2.83 3.76 5.14 6.59 6.59l2.2-2.2c.27-.27.67-.36 1.02-.24 1.12.37 2.33.57 3.57.57.55 0 1 .45 1 1V20c0 .55-.45 1-1 1-9.39 0-17-7.61-17-17 0-.55.45-1 1-1h3.5c.55 0 1 .45 1 1 0 1.25.2 2.45.57 3.57.11.35.03.74-.25 1.02l-2.2 2.2z"/></svg>
<svg class="a" style="left:965.5px;top:810px" width="20" height="15" viewBox="0 0 16 12.5" fill="#93b852" color="#93b852"><g fill="none" stroke="currentColor" stroke-width="1.500" stroke-linejoin="round"><rect x=".75" y=".75" width="14.500" height="11" rx=".8"/><path d="M1.200 1.500L8 6.700l6.800-5.200" stroke-width="1.400"/></g></svg>
<span class="t" style="left:994.6px;top:810px;font-size:14px;color:#434a54;transform:scaleX(1.017);">СМС включены</span>
<svg class="a" style="left:964px;top:837px" width="24" height="24" viewBox="0 0 24 24" fill="#434a54" color="#434a54"><path d="M18.500 6C15.460 6 13 8.460 13 11.500c0 1.330.47 2.550 1.260 3.500H9.740c.79-.95 1.260-2.170 1.260-3.500C11 8.460 8.540 6 5.500 6S0 8.460 0 11.500 2.460 17 5.500 17h13c3.040 0 5.500-2.460 5.500-5.500S21.540 6 18.500 6zm-13 9C3.570 15 2 13.430 2 11.500S3.570 8 5.500 8 9 9.570 9 11.500 7.430 15 5.500 15zm13 0c-1.930 0-3.500-1.570-3.500-3.500S16.570 8 18.500 8 22 9.570 22 11.500 20.430 15 18.500 15z"/></svg>
<span class="t" style="left:994.6px;top:842px;font-size:14px;color:#434a54;transform:scaleX(1.026);">Автоинформатор выключен</span>
</aside>
</body>
</html>
